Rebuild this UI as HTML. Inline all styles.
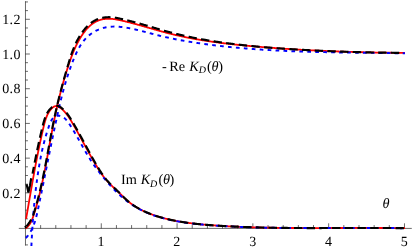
<!DOCTYPE html>
<html><head><meta charset="utf-8"><title>plot</title>
<style>
html,body{margin:0;padding:0;background:#fff;}
body{width:415px;height:250px;overflow:hidden;}
svg{display:block;}
text{font-family:"Liberation Serif",serif;font-size:14.0px;fill:#000;text-rendering:geometricPrecision;}
.it{font-style:italic;}
</style></head><body>
<svg width="415" height="250" viewBox="0 0 415 250">
<defs><filter id="gf" x="0" y="0" width="415" height="250" filterUnits="userSpaceOnUse"><feOffset dx="0" dy="0"/></filter></defs>
<rect width="415" height="250" fill="#fff"/>
<g stroke="#000" stroke-width="0.62" fill="none" stroke-opacity="0.95">
<line x1="18.8" y1="228.40" x2="411.8" y2="228.40"/>
<line x1="25.47" y1="1.2" x2="25.47" y2="245.6"/>
<line x1="40.63" y1="228.40" x2="40.63" y2="225.10"/>
<line x1="55.79" y1="228.40" x2="55.79" y2="225.10"/>
<line x1="70.95" y1="228.40" x2="70.95" y2="225.10"/>
<line x1="86.11" y1="228.40" x2="86.11" y2="225.10"/>
<line x1="101.27" y1="228.40" x2="101.27" y2="223.30"/>
<line x1="116.43" y1="228.40" x2="116.43" y2="225.10"/>
<line x1="131.59" y1="228.40" x2="131.59" y2="225.10"/>
<line x1="146.75" y1="228.40" x2="146.75" y2="225.10"/>
<line x1="161.91" y1="228.40" x2="161.91" y2="225.10"/>
<line x1="177.07" y1="228.40" x2="177.07" y2="223.30"/>
<line x1="192.23" y1="228.40" x2="192.23" y2="225.10"/>
<line x1="207.39" y1="228.40" x2="207.39" y2="225.10"/>
<line x1="222.55" y1="228.40" x2="222.55" y2="225.10"/>
<line x1="237.71" y1="228.40" x2="237.71" y2="225.10"/>
<line x1="252.87" y1="228.40" x2="252.87" y2="223.30"/>
<line x1="268.03" y1="228.40" x2="268.03" y2="225.10"/>
<line x1="283.19" y1="228.40" x2="283.19" y2="225.10"/>
<line x1="298.35" y1="228.40" x2="298.35" y2="225.10"/>
<line x1="313.51" y1="228.40" x2="313.51" y2="225.10"/>
<line x1="328.67" y1="228.40" x2="328.67" y2="223.30"/>
<line x1="343.83" y1="228.40" x2="343.83" y2="225.10"/>
<line x1="358.99" y1="228.40" x2="358.99" y2="225.10"/>
<line x1="374.15" y1="228.40" x2="374.15" y2="225.10"/>
<line x1="389.31" y1="228.40" x2="389.31" y2="225.10"/>
<line x1="404.47" y1="228.40" x2="404.47" y2="223.30"/>
<line x1="25.47" y1="244.91" x2="27.97" y2="244.91"/>
<line x1="25.47" y1="236.23" x2="27.97" y2="236.23"/>
<line x1="25.47" y1="218.87" x2="27.97" y2="218.87"/>
<line x1="25.47" y1="210.20" x2="27.97" y2="210.20"/>
<line x1="25.47" y1="201.52" x2="27.97" y2="201.52"/>
<line x1="25.47" y1="192.84" x2="29.87" y2="192.84"/>
<line x1="25.47" y1="184.16" x2="27.97" y2="184.16"/>
<line x1="25.47" y1="175.49" x2="27.97" y2="175.49"/>
<line x1="25.47" y1="166.81" x2="27.97" y2="166.81"/>
<line x1="25.47" y1="158.13" x2="29.87" y2="158.13"/>
<line x1="25.47" y1="149.45" x2="27.97" y2="149.45"/>
<line x1="25.47" y1="140.78" x2="27.97" y2="140.78"/>
<line x1="25.47" y1="132.10" x2="27.97" y2="132.10"/>
<line x1="25.47" y1="123.42" x2="29.87" y2="123.42"/>
<line x1="25.47" y1="114.74" x2="27.97" y2="114.74"/>
<line x1="25.47" y1="106.06" x2="27.97" y2="106.06"/>
<line x1="25.47" y1="97.39" x2="27.97" y2="97.39"/>
<line x1="25.47" y1="88.71" x2="29.87" y2="88.71"/>
<line x1="25.47" y1="80.03" x2="27.97" y2="80.03"/>
<line x1="25.47" y1="71.35" x2="27.97" y2="71.35"/>
<line x1="25.47" y1="62.68" x2="27.97" y2="62.68"/>
<line x1="25.47" y1="54.00" x2="29.87" y2="54.00"/>
<line x1="25.47" y1="45.32" x2="27.97" y2="45.32"/>
<line x1="25.47" y1="36.64" x2="27.97" y2="36.64"/>
<line x1="25.47" y1="27.97" x2="27.97" y2="27.97"/>
<line x1="25.47" y1="19.29" x2="29.87" y2="19.29"/>
<line x1="25.47" y1="10.61" x2="27.97" y2="10.61"/>
<line x1="25.47" y1="1.94" x2="27.97" y2="1.94"/>
</g>
<g filter="url(#gf)">
<text x="20.9" y="197.54" text-anchor="end" style="letter-spacing:0.4px">0.2</text>
<text x="20.9" y="162.83" text-anchor="end" style="letter-spacing:0.4px">0.4</text>
<text x="20.9" y="128.12" text-anchor="end" style="letter-spacing:0.4px">0.6</text>
<text x="20.9" y="93.41" text-anchor="end" style="letter-spacing:0.4px">0.8</text>
<text x="20.9" y="58.70" text-anchor="end" style="letter-spacing:0.4px">1.0</text>
<text x="20.9" y="23.99" text-anchor="end" style="letter-spacing:0.4px">1.2</text>
<text x="101.07" y="245.6" text-anchor="middle">1</text>
<text x="176.87" y="245.6" text-anchor="middle">2</text>
<text x="252.67" y="245.6" text-anchor="middle">3</text>
<text x="328.47" y="245.6" text-anchor="middle">4</text>
<text x="404.27" y="245.6" text-anchor="middle">5</text>
<text x="161.9" y="70.90" style="font-size:14.3px">-</text>
<text x="169.2" y="70.90" style="font-size:14.3px">Re</text>
<text x="189.3" y="70.90" class="it" style="font-size:14.3px">K</text>
<text x="198.8" y="73.00" class="it" style="font-size:10.0px">D</text>
<text x="207.0" y="70.90" style="font-size:14.3px">(</text>
<text x="211.5" y="70.90" class="it" style="font-size:14.3px">θ</text>
<text x="218.3" y="70.90" style="font-size:14.3px">)</text>
<text x="121.0" y="184.40" style="font-size:14.3px">Im</text>
<text x="140.8" y="184.40" class="it" style="font-size:14.3px">K</text>
<text x="150.1" y="186.50" class="it" style="font-size:10.0px">D</text>
<text x="158.4" y="184.40" style="font-size:14.3px">(</text>
<text x="162.9" y="184.40" class="it" style="font-size:14.3px">θ</text>
<text x="169.4" y="184.40" style="font-size:14.3px">)</text>
<text x="382.4" y="207.60" class="it" style="font-size:14.3px">θ</text>
</g>
<g fill="none" stroke-linejoin="round">
<path d="M25.61,228.49 L26.15,228.08 L26.67,227.65 L27.16,227.20 L27.63,226.74 L28.08,226.26 L28.51,225.77 L28.92,225.26 L29.30,224.74 L29.67,224.21 L30.03,223.66 L30.36,223.10 L30.68,222.53 L30.99,221.96 L31.28,221.37 L31.56,220.77 L31.83,220.17 L32.09,219.55 L32.34,218.94 L32.58,218.31 L32.81,217.68 L33.04,217.05 L33.26,216.41 L33.47,215.77 L33.68,215.13 L33.89,214.49 L34.09,213.84 L34.29,213.20 L34.49,212.55 L34.69,211.91 L34.89,211.26 L35.09,210.62 L35.28,209.97 L35.47,209.33 L35.67,208.68 L35.86,208.03 L36.04,207.39 L36.23,206.74 L36.42,206.09 L36.60,205.45 L36.78,204.80 L36.96,204.15 L37.14,203.50 L37.32,202.85 L37.50,202.20 L37.67,201.56 L37.85,200.91 L38.02,200.26 L38.19,199.61 L38.36,198.96 L38.53,198.31 L38.70,197.66 L38.86,197.01 L39.03,196.36 L39.19,195.71 L39.35,195.06 L39.52,194.41 L39.68,193.76 L39.83,193.10 L39.99,192.45 L40.15,191.80 L40.30,191.15 L40.46,190.50 L40.61,189.85 L40.76,189.19 L40.92,188.54 L41.07,187.89 L41.22,187.24 L41.36,186.58 L41.51,185.93 L41.66,185.28 L41.80,184.62 L41.95,183.97 L42.09,183.32 L42.23,182.66 L42.38,182.01 L42.52,181.35 L42.66,180.70 L42.80,180.05 L42.94,179.39 L43.07,178.74 L43.21,178.08 L43.35,177.43 L43.48,176.77 L43.62,176.12 L43.75,175.46 L43.88,174.81 L44.02,174.15 L44.15,173.49 L44.28,172.84 L44.41,172.18 L44.54,171.53 L44.67,170.87 L44.80,170.21 L44.93,169.56 L45.06,168.90 L45.18,168.24 L45.31,167.59 L45.44,166.93 L45.56,166.27 L45.69,165.62 L45.81,164.96 L45.94,164.30 L46.06,163.65 L46.19,162.99 L46.31,162.33 L46.43,161.67 L46.55,161.02 L46.68,160.36 L46.80,159.70 L46.92,159.04 L47.04,158.39 L47.16,157.73 L47.28,157.07 L47.40,156.41 L47.53,155.75 L47.65,155.10 L47.77,154.44 L47.89,153.78 L48.01,153.12 L48.12,152.46 L48.24,151.81 L48.36,151.15 L48.48,150.49 L48.60,149.83 L48.72,149.17 L48.84,148.51 L48.96,147.86 L49.08,147.20 L49.20,146.54 L49.32,145.88 L49.44,145.22 L49.56,144.56 L49.68,143.90 L49.79,143.25 L49.91,142.59 L50.03,141.93 L50.15,141.27 L50.27,140.61 L50.39,139.95 L50.51,139.29 L50.64,138.64 L50.76,137.98 L50.88,137.32 L51.00,136.66 L51.12,136.00 L51.24,135.34 L51.37,134.68 L51.49,134.02 L51.61,133.37 L51.73,132.71 L51.86,132.05 L51.98,131.39 L52.11,130.73 L52.23,130.07 L52.36,129.41 L52.48,128.76 L52.61,128.10 L52.74,127.44 L52.86,126.78 L52.99,126.12 L53.12,125.47 L53.25,124.81 L53.38,124.15 L53.51,123.49 L53.64,122.83 L53.77,122.17 L53.90,121.52 L54.03,120.86 L54.17,120.20 L54.30,119.54 L54.44,118.89 L54.57,118.23 L54.71,117.57 L54.85,116.91 L54.98,116.26 L55.12,115.60 L55.26,114.94 L55.40,114.28 L55.54,113.63 L55.68,112.97 L55.83,112.31 L55.97,111.66 L56.11,111.00 L56.26,110.34 L56.40,109.69 L56.55,109.03 L56.70,108.38 L56.84,107.72 L56.99,107.07 L57.14,106.41 L57.29,105.75 L57.44,105.10 L57.60,104.44 L57.75,103.79 L57.90,103.14 L58.06,102.48 L58.21,101.83 L58.37,101.17 L58.53,100.52 L58.68,99.87 L58.84,99.21 L59.00,98.56 L59.16,97.91 L59.32,97.26 L59.49,96.60 L59.65,95.95 L59.81,95.30 L59.98,94.65 L60.14,94.00 L60.31,93.35 L60.48,92.70 L60.65,92.05 L60.81,91.40 L60.98,90.75 L61.16,90.10 L61.33,89.45 L61.50,88.80 L61.67,88.15 L61.85,87.50 L62.02,86.85 L62.20,86.21 L62.38,85.56 L62.56,84.91 L62.74,84.27 L62.92,83.62 L63.10,82.98 L63.28,82.33 L63.46,81.69 L63.65,81.04 L63.83,80.40 L64.02,79.75 L64.21,79.11 L64.39,78.47 L64.58,77.83 L64.77,77.18 L64.96,76.54 L65.16,75.90 L65.35,75.26 L65.54,74.62 L65.74,73.98 L65.93,73.34 L66.13,72.70 L66.33,72.07 L66.53,71.43 L66.73,70.79 L66.93,70.15 L67.13,69.52 L67.33,68.88 L67.54,68.25 L67.74,67.61 L67.95,66.98 L68.16,66.35 L68.37,65.71 L68.58,65.08 L68.79,64.45 L69.00,63.82 L69.21,63.19 L69.42,62.56 L69.64,61.93 L69.86,61.30 L70.07,60.67 L70.29,60.04 L70.52,59.41 L70.74,58.79 L70.96,58.16 L71.19,57.54 L71.42,56.91 L71.65,56.29 L71.89,55.67 L72.12,55.05 L72.36,54.43 L72.61,53.81 L72.85,53.19 L73.10,52.57 L73.35,51.95 L73.60,51.34 L73.86,50.72 L74.12,50.11 L74.38,49.50 L74.65,48.89 L74.92,48.28 L75.19,47.67 L75.47,47.06 L75.75,46.45 L76.04,45.85 L76.33,45.24 L76.63,44.64 L76.92,44.04 L77.23,43.44 L77.54,42.84 L77.85,42.24 L78.17,41.65 L78.49,41.05 L78.82,40.46 L79.15,39.87 L79.48,39.28 L79.83,38.69 L80.18,38.10 L80.53,37.52 L80.89,36.93 L81.25,36.35 L81.62,35.78 L82.00,35.21 L82.38,34.64 L82.77,34.07 L83.16,33.51 L83.56,32.96 L83.97,32.41 L84.38,31.87 L84.80,31.33 L85.22,30.80 L85.65,30.28 L86.09,29.76 L86.53,29.25 L86.98,28.75 L87.44,28.25 L87.90,27.77 L88.37,27.29 L88.85,26.83 L89.33,26.37 L89.82,25.92 L90.32,25.49 L90.82,25.06 L91.34,24.65 L91.86,24.24 L92.38,23.85 L92.92,23.47 L93.46,23.11 L94.01,22.75 L94.56,22.41 L95.13,22.09 L95.70,21.77 L96.28,21.47 L96.87,21.19 L97.46,20.92 L98.07,20.67 L98.68,20.43 L99.30,20.21 L99.92,20.00 L100.56,19.81 L101.20,19.64 L101.85,19.48 L102.51,19.34 L103.17,19.21 L103.83,19.10 L104.50,19.01 L105.18,18.93 L105.85,18.86 L106.53,18.81 L107.21,18.77 L107.89,18.75 L108.57,18.74 L109.24,18.74 L109.92,18.76 L110.60,18.79 L111.27,18.83 L111.94,18.89 L112.61,18.95 L113.28,19.03 L113.95,19.12 L114.61,19.21 L115.27,19.31 L115.94,19.42 L116.60,19.54 L117.26,19.66 L117.91,19.79 L118.57,19.92 L119.23,20.06 L119.89,20.20 L120.54,20.34 L121.20,20.48 L121.85,20.63 L122.51,20.77 L123.16,20.92 L123.81,21.07 L124.47,21.23 L125.12,21.38 L125.77,21.54 L126.42,21.69 L127.07,21.85 L127.72,22.01 L128.37,22.18 L129.02,22.34 L129.67,22.50 L130.32,22.67 L130.97,22.84 L131.62,23.01 L132.27,23.18 L132.92,23.35 L133.57,23.52 L134.21,23.70 L134.86,23.87 L135.51,24.05 L136.15,24.22 L136.80,24.40 L137.45,24.58 L138.09,24.76 L138.74,24.94 L139.38,25.12 L140.03,25.30 L140.67,25.48 L141.32,25.67 L141.96,25.85 L142.61,26.03 L143.25,26.22 L143.90,26.40 L144.54,26.59 L145.19,26.77 L145.83,26.96 L146.47,27.14 L147.12,27.33 L147.76,27.52 L148.41,27.70 L149.05,27.89 L149.69,28.07 L150.34,28.26 L150.98,28.45 L151.63,28.63 L152.27,28.82 L152.91,29.00 L153.56,29.19 L154.20,29.37 L154.85,29.56 L155.49,29.74 L156.14,29.93 L156.78,30.11 L157.42,30.29 L158.07,30.47 L158.71,30.66 L159.36,30.84 L160.00,31.02 L160.65,31.19 L161.30,31.37 L161.94,31.55 L162.59,31.73 L163.23,31.90 L163.88,32.08 L164.53,32.25 L165.17,32.42 L165.82,32.59 L166.47,32.76 L167.12,32.93 L167.76,33.10 L168.41,33.26 L169.06,33.43 L169.71,33.59 L170.36,33.75 L171.01,33.91 L171.66,34.07 L172.31,34.23 L172.96,34.39 L173.61,34.54 L174.26,34.70 L174.91,34.85 L175.56,35.00 L176.22,35.15 L176.87,35.30 L177.52,35.45 L178.17,35.60 L178.83,35.74 L179.48,35.89 L180.13,36.03 L180.79,36.17 L181.44,36.31 L182.09,36.45 L182.75,36.59 L183.40,36.73 L184.06,36.87 L184.71,37.00 L185.37,37.13 L186.03,37.27 L186.68,37.40 L187.34,37.53 L187.99,37.66 L188.65,37.79 L189.31,37.92 L189.97,38.04 L190.62,38.17 L191.28,38.29 L191.94,38.41 L192.60,38.54 L193.25,38.66 L193.91,38.78 L194.57,38.90 L195.23,39.01 L195.89,39.13 L196.55,39.25 L197.21,39.36 L197.87,39.48 L198.53,39.59 L199.19,39.70 L199.85,39.81 L200.51,39.92 L201.17,40.03 L201.83,40.14 L202.49,40.25 L203.15,40.35 L203.81,40.46 L204.48,40.56 L205.14,40.67 L205.80,40.77 L206.46,40.87 L207.12,40.97 L207.79,41.07 L208.45,41.17 L209.11,41.27 L209.78,41.37 L210.44,41.47 L211.10,41.56 L211.77,41.66 L212.43,41.75 L213.09,41.85 L213.76,41.94 L214.42,42.03 L215.08,42.12 L215.75,42.21 L216.41,42.30 L217.08,42.39 L217.74,42.48 L218.41,42.57 L219.07,42.65 L219.74,42.74 L220.40,42.82 L221.07,42.91 L221.73,42.99 L222.40,43.08 L223.06,43.16 L223.73,43.24 L224.40,43.32 L225.06,43.40 L225.73,43.48 L226.39,43.56 L227.06,43.64 L227.73,43.72 L228.39,43.79 L229.06,43.87 L229.73,43.95 L230.39,44.02 L231.06,44.10 L231.73,44.17 L232.39,44.24 L233.06,44.32 L233.73,44.39 L234.40,44.46 L235.06,44.53 L235.73,44.60 L236.40,44.67 L237.06,44.74 L237.73,44.81 L238.40,44.88 L239.07,44.95 L239.74,45.02 L240.40,45.09 L241.07,45.15 L241.74,45.22 L242.41,45.28 L243.07,45.35 L243.74,45.42 L244.41,45.48 L245.08,45.54 L245.75,45.61 L246.41,45.67 L247.08,45.73 L247.75,45.80 L248.42,45.86 L249.09,45.92 L249.76,45.98 L250.42,46.04 L251.09,46.10 L251.76,46.16 L252.43,46.22 L253.10,46.28 L253.76,46.34 L254.43,46.40 L255.10,46.46 L255.77,46.52 L256.44,46.57 L257.11,46.63 L257.77,46.69 L258.44,46.75 L259.11,46.80 L259.78,46.86 L260.45,46.91 L261.12,46.97 L261.78,47.03 L262.45,47.08 L263.12,47.14 L263.79,47.19 L264.46,47.24 L265.13,47.30 L265.79,47.35 L266.46,47.40 L267.13,47.46 L267.80,47.51 L268.47,47.56 L269.13,47.62 L269.80,47.67 L270.47,47.72 L271.14,47.77 L271.81,47.82 L272.48,47.87 L273.14,47.92 L273.81,47.97 L274.48,48.02 L275.15,48.07 L275.82,48.12 L276.49,48.17 L277.15,48.22 L277.82,48.27 L278.49,48.31 L279.16,48.36 L279.83,48.41 L280.50,48.46 L281.16,48.50 L281.83,48.55 L282.50,48.59 L283.17,48.64 L283.84,48.69 L284.50,48.73 L285.17,48.78 L285.84,48.82 L286.51,48.87 L287.18,48.91 L287.85,48.95 L288.51,49.00 L289.18,49.04 L289.85,49.08 L290.52,49.13 L291.19,49.17 L291.86,49.21 L292.52,49.25 L293.19,49.30 L293.86,49.34 L294.53,49.38 L295.20,49.42 L295.87,49.46 L296.54,49.50 L297.20,49.54 L297.87,49.58 L298.54,49.62 L299.21,49.66 L299.88,49.70 L300.55,49.74 L301.21,49.78 L301.88,49.81 L302.55,49.85 L303.22,49.89 L303.89,49.93 L304.56,49.96 L305.23,50.00 L305.89,50.04 L306.56,50.07 L307.23,50.11 L307.90,50.15 L308.57,50.18 L309.24,50.22 L309.90,50.25 L310.57,50.29 L311.24,50.32 L311.91,50.36 L312.58,50.39 L313.25,50.42 L313.92,50.46 L314.59,50.49 L315.25,50.52 L315.92,50.56 L316.59,50.59 L317.26,50.62 L317.93,50.65 L318.60,50.68 L319.27,50.72 L319.93,50.75 L320.60,50.78 L321.27,50.81 L321.94,50.84 L322.61,50.87 L323.28,50.90 L323.95,50.93 L324.62,50.96 L325.28,50.99 L325.95,51.02 L326.62,51.05 L327.29,51.07 L327.96,51.10 L328.63,51.13 L329.30,51.16 L329.97,51.19 L330.64,51.21 L331.30,51.24 L331.97,51.27 L332.64,51.29 L333.31,51.32 L333.98,51.35 L334.65,51.37 L335.32,51.40 L335.99,51.42 L336.66,51.45 L337.33,51.47 L338.00,51.50 L338.66,51.52 L339.33,51.55 L340.00,51.57 L340.67,51.60 L341.34,51.62 L342.01,51.64 L342.68,51.66 L343.35,51.69 L344.02,51.71 L344.69,51.73 L345.36,51.75 L346.03,51.78 L346.69,51.80 L347.36,51.82 L348.03,51.84 L348.70,51.86 L349.37,51.88 L350.04,51.90 L350.71,51.92 L351.38,51.94 L352.05,51.96 L352.72,51.98 L353.39,52.00 L354.06,52.02 L354.73,52.04 L355.40,52.06 L356.07,52.08 L356.74,52.10 L357.41,52.12 L358.08,52.13 L358.75,52.15 L359.42,52.17 L360.09,52.19 L360.76,52.20 L361.42,52.22 L362.09,52.24 L362.76,52.25 L363.43,52.27 L364.10,52.29 L364.77,52.30 L365.44,52.32 L366.11,52.33 L366.78,52.35 L367.45,52.36 L368.12,52.38 L368.79,52.39 L369.46,52.41 L370.13,52.42 L370.80,52.44 L371.47,52.45 L372.14,52.46 L372.81,52.48 L373.48,52.49 L374.15,52.50 L374.82,52.52 L375.49,52.53 L376.16,52.54 L376.84,52.55 L377.51,52.56 L378.18,52.58 L378.85,52.59 L379.52,52.60 L380.19,52.61 L380.86,52.62 L381.53,52.63 L382.20,52.64 L382.87,52.65 L383.54,52.66 L384.21,52.67 L384.88,52.68 L385.55,52.69 L386.22,52.70 L386.89,52.71 L387.56,52.72 L388.23,52.73 L388.90,52.74 L389.58,52.75 L390.25,52.76 L390.92,52.76 L391.59,52.77 L392.26,52.78 L392.93,52.79 L393.60,52.80 L394.27,52.80 L394.94,52.81 L395.61,52.82 L396.28,52.82 L396.96,52.83 L397.63,52.84 L398.30,52.84 L398.97,52.85 L399.64,52.85 L400.31,52.86 L400.98,52.87 L401.65,52.87 L402.33,52.88 L403.00,52.88 L403.67,52.89 L404.34,52.89 L405.01,52.90" stroke="#f00" stroke-width="1.8"/>
<path d="M26.06,218.95 L26.17,218.30 L26.29,217.64 L26.40,216.99 L26.51,216.34 L26.63,215.68 L26.74,215.03 L26.85,214.38 L26.96,213.73 L27.08,213.07 L27.19,212.42 L27.30,211.77 L27.41,211.12 L27.53,210.47 L27.64,209.82 L27.75,209.17 L27.86,208.53 L27.97,207.88 L28.08,207.23 L28.20,206.58 L28.31,205.93 L28.42,205.29 L28.53,204.64 L28.64,204.00 L28.75,203.35 L28.86,202.70 L28.98,202.06 L29.09,201.41 L29.20,200.77 L29.31,200.12 L29.42,199.48 L29.53,198.84 L29.64,198.19 L29.75,197.55 L29.86,196.91 L29.97,196.27 L30.09,195.62 L30.20,194.98 L30.31,194.34 L30.42,193.70 L30.53,193.06 L30.64,192.41 L30.75,191.77 L30.87,191.13 L30.98,190.49 L31.09,189.85 L31.20,189.21 L31.31,188.57 L31.43,187.93 L31.54,187.29 L31.65,186.65 L31.76,186.01 L31.88,185.37 L31.99,184.73 L32.10,184.10 L32.21,183.46 L32.33,182.82 L32.44,182.18 L32.55,181.54 L32.67,180.90 L32.78,180.26 L32.90,179.63 L33.01,178.99 L33.13,178.35 L33.24,177.71 L33.36,177.07 L33.47,176.44 L33.59,175.80 L33.70,175.16 L33.82,174.52 L33.93,173.89 L34.05,173.25 L34.17,172.61 L34.28,171.97 L34.40,171.34 L34.52,170.70 L34.64,170.06 L34.76,169.42 L34.87,168.79 L34.99,168.15 L35.11,167.51 L35.23,166.87 L35.35,166.24 L35.47,165.60 L35.59,164.96 L35.71,164.32 L35.83,163.68 L35.96,163.05 L36.08,162.41 L36.20,161.77 L36.32,161.13 L36.45,160.49 L36.57,159.86 L36.69,159.22 L36.82,158.58 L36.94,157.94 L37.07,157.30 L37.19,156.66 L37.32,156.02 L37.45,155.38 L37.57,154.74 L37.70,154.10 L37.83,153.46 L37.96,152.82 L38.09,152.18 L38.22,151.54 L38.35,150.90 L38.48,150.26 L38.61,149.62 L38.74,148.98 L38.87,148.34 L39.00,147.70 L39.14,147.06 L39.27,146.41 L39.41,145.77 L39.54,145.13 L39.68,144.49 L39.81,143.84 L39.95,143.20 L40.08,142.56 L40.22,141.91 L40.36,141.27 L40.50,140.62 L40.64,139.98 L40.78,139.33 L40.92,138.69 L41.06,138.04 L41.20,137.40 L41.34,136.75 L41.49,136.10 L41.63,135.46 L41.78,134.81 L41.92,134.16 L42.07,133.51 L42.21,132.87 L42.36,132.22 L42.51,131.57 L42.66,130.92 L42.81,130.27 L42.96,129.62 L43.11,128.97 L43.26,128.32 L43.41,127.66 L43.56,127.01 L43.72,126.36 L43.87,125.71 L44.03,125.06 L44.20,124.41 L44.36,123.76 L44.53,123.11 L44.71,122.47 L44.88,121.82 L45.07,121.18 L45.26,120.55 L45.46,119.91 L45.67,119.28 L45.88,118.65 L46.10,118.03 L46.33,117.41 L46.57,116.80 L46.82,116.19 L47.08,115.59 L47.36,114.99 L47.64,114.40 L47.93,113.82 L48.24,113.24 L48.56,112.67 L48.90,112.11 L49.25,111.55 L49.61,111.01 L49.99,110.47 L50.39,109.94 L50.80,109.42 L51.22,108.92 L51.66,108.45 L52.12,108.00 L52.58,107.59 L53.06,107.22 L53.55,106.89 L54.05,106.62 L54.56,106.40 L55.08,106.24 L55.61,106.14 L56.14,106.12 L56.68,106.17 L57.23,106.29 L57.78,106.46 L58.33,106.68 L58.88,106.95 L59.43,107.26 L59.97,107.61 L60.51,107.98 L61.04,108.39 L61.57,108.81 L62.08,109.25 L62.58,109.70 L63.07,110.16 L63.55,110.62 L64.01,111.10 L64.47,111.59 L64.92,112.08 L65.36,112.58 L65.79,113.09 L66.21,113.61 L66.62,114.13 L67.03,114.66 L67.43,115.20 L67.82,115.74 L68.20,116.28 L68.58,116.83 L68.95,117.39 L69.32,117.94 L69.68,118.51 L70.04,119.07 L70.39,119.64 L70.74,120.21 L71.09,120.78 L71.43,121.35 L71.77,121.93 L72.11,122.50 L72.44,123.08 L72.78,123.65 L73.11,124.22 L73.44,124.80 L73.77,125.37 L74.10,125.95 L74.43,126.52 L74.76,127.10 L75.08,127.67 L75.41,128.24 L75.73,128.82 L76.06,129.39 L76.38,129.96 L76.70,130.54 L77.02,131.11 L77.34,131.68 L77.66,132.25 L77.97,132.83 L78.29,133.40 L78.61,133.97 L78.92,134.54 L79.24,135.11 L79.55,135.69 L79.87,136.26 L80.18,136.83 L80.49,137.40 L80.80,137.97 L81.12,138.54 L81.43,139.11 L81.74,139.68 L82.05,140.25 L82.36,140.82 L82.67,141.39 L82.98,141.96 L83.29,142.53 L83.60,143.10 L83.91,143.67 L84.22,144.24 L84.53,144.81 L84.84,145.38 L85.15,145.95 L85.46,146.51 L85.77,147.08 L86.08,147.65 L86.40,148.22 L86.71,148.79 L87.02,149.35 L87.33,149.92 L87.64,150.49 L87.96,151.06 L88.27,151.62 L88.58,152.19 L88.90,152.76 L89.21,153.32 L89.53,153.89 L89.85,154.46 L90.17,155.02 L90.48,155.59 L90.80,156.15 L91.12,156.72 L91.44,157.28 L91.76,157.85 L92.09,158.41 L92.41,158.98 L92.74,159.54 L93.06,160.11 L93.39,160.67 L93.72,161.24 L94.05,161.80 L94.38,162.37 L94.71,162.93 L95.04,163.49 L95.37,164.06 L95.71,164.62 L96.05,165.18 L96.39,165.75 L96.73,166.31 L97.07,166.87 L97.41,167.43 L97.76,167.99 L98.11,168.55 L98.46,169.11 L98.81,169.67 L99.16,170.23 L99.52,170.78 L99.88,171.33 L100.24,171.88 L100.61,172.43 L100.98,172.97 L101.35,173.52 L101.72,174.06 L102.10,174.60 L102.48,175.13 L102.87,175.66 L103.26,176.19 L103.65,176.71 L104.04,177.24 L104.44,177.75 L104.85,178.27 L105.26,178.77 L105.67,179.28 L106.09,179.78 L106.51,180.27 L106.94,180.77 L107.37,181.25 L107.80,181.73 L108.25,182.21 L108.69,182.68 L109.14,183.15 L109.59,183.61 L110.05,184.07 L110.51,184.53 L110.97,184.98 L111.44,185.43 L111.91,185.88 L112.38,186.33 L112.85,186.78 L113.32,187.22 L113.79,187.67 L114.27,188.12 L114.74,188.56 L115.22,189.01 L115.70,189.46 L116.17,189.91 L116.65,190.36 L117.12,190.81 L117.59,191.27 L118.06,191.73 L118.53,192.19 L119.00,192.65 L119.47,193.11 L119.94,193.58 L120.40,194.04 L120.87,194.51 L121.34,194.98 L121.81,195.44 L122.28,195.91 L122.75,196.37 L123.22,196.83 L123.69,197.29 L124.17,197.75 L124.65,198.20 L125.13,198.65 L125.61,199.10 L126.10,199.54 L126.58,199.98 L127.08,200.41 L127.57,200.84 L128.07,201.26 L128.58,201.68 L129.08,202.09 L129.59,202.49 L130.11,202.89 L130.63,203.29 L131.15,203.67 L131.67,204.06 L132.20,204.44 L132.74,204.81 L133.27,205.18 L133.81,205.54 L134.35,205.90 L134.90,206.25 L135.44,206.60 L136.00,206.94 L136.55,207.27 L137.11,207.61 L137.67,207.93 L138.23,208.26 L138.80,208.58 L139.36,208.89 L139.94,209.20 L140.51,209.50 L141.09,209.80 L141.66,210.10 L142.25,210.39 L142.83,210.68 L143.42,210.96 L144.00,211.24 L144.60,211.51 L145.19,211.78 L145.78,212.04 L146.38,212.31 L146.98,212.56 L147.58,212.82 L148.19,213.07 L148.79,213.31 L149.40,213.55 L150.01,213.79 L150.62,214.03 L151.23,214.26 L151.85,214.48 L152.46,214.71 L153.08,214.93 L153.70,215.14 L154.32,215.36 L154.94,215.57 L155.56,215.77 L156.19,215.98 L156.81,216.18 L157.44,216.37 L158.07,216.57 L158.70,216.76 L159.33,216.94 L159.96,217.13 L160.59,217.31 L161.22,217.49 L161.86,217.66 L162.49,217.84 L163.13,218.01 L163.76,218.17 L164.40,218.34 L165.04,218.50 L165.67,218.66 L166.31,218.82 L166.95,218.97 L167.59,219.12 L168.23,219.27 L168.87,219.42 L169.51,219.57 L170.15,219.71 L170.79,219.85 L171.43,219.99 L172.07,220.13 L172.71,220.26 L173.35,220.39 L173.99,220.52 L174.64,220.65 L175.28,220.77 L175.92,220.90 L176.56,221.02 L177.21,221.14 L177.85,221.26 L178.49,221.37 L179.14,221.49 L179.78,221.60 L180.43,221.71 L181.07,221.81 L181.71,221.92 L182.36,222.02 L183.01,222.13 L183.65,222.23 L184.30,222.33 L184.94,222.42 L185.59,222.52 L186.23,222.61 L186.88,222.71 L187.53,222.80 L188.18,222.88 L188.82,222.97 L189.47,223.06 L190.12,223.14 L190.77,223.22 L191.41,223.31 L192.06,223.39 L192.71,223.46 L193.36,223.54 L194.01,223.62 L194.66,223.69 L195.30,223.76 L195.95,223.84 L196.60,223.91 L197.25,223.98 L197.90,224.04 L198.55,224.11 L199.20,224.18 L199.85,224.24 L200.50,224.30 L201.15,224.37 L201.80,224.43 L202.45,224.49 L203.10,224.55 L203.75,224.60 L204.40,224.66 L205.05,224.72 L205.70,224.77 L206.36,224.82 L207.01,224.88 L207.66,224.93 L208.31,224.98 L208.96,225.03 L209.61,225.08 L210.26,225.13 L210.92,225.18 L211.57,225.23 L212.22,225.27 L212.87,225.32 L213.52,225.37 L214.17,225.41 L214.83,225.46 L215.48,225.50 L216.13,225.54 L216.78,225.59 L217.43,225.63 L218.09,225.67 L218.74,225.71 L219.39,225.75 L220.04,225.79 L220.69,225.83 L221.35,225.87 L222.00,225.91 L222.65,225.95 L223.30,225.99 L223.96,226.03 L224.61,226.06 L225.26,226.10 L225.91,226.14 L226.56,226.17 L227.22,226.21 L227.87,226.24 L228.52,226.28 L229.17,226.31 L229.83,226.35 L230.48,226.38 L231.13,226.41 L231.78,226.44 L232.44,226.48 L233.09,226.51 L233.74,226.54 L234.40,226.57 L235.05,226.60 L235.70,226.63 L236.35,226.66 L237.01,226.69 L237.66,226.72 L238.31,226.75 L238.96,226.77 L239.62,226.80 L240.27,226.83 L240.92,226.86 L241.58,226.88 L242.23,226.91 L242.88,226.93 L243.53,226.96 L244.19,226.99 L244.84,227.01 L245.49,227.03 L246.15,227.06 L246.80,227.08 L247.45,227.11 L248.11,227.13 L248.76,227.15 L249.41,227.17 L250.07,227.19 L250.72,227.22 L251.37,227.24 L252.02,227.26 L252.68,227.28 L253.33,227.30 L253.98,227.32 L254.64,227.34 L255.29,227.36 L255.94,227.38 L256.60,227.39 L257.25,227.41 L257.90,227.43 L258.56,227.45 L259.21,227.46 L259.86,227.48 L260.52,227.50 L261.17,227.51 L261.82,227.53 L262.48,227.55 L263.13,227.56 L263.78,227.58 L264.44,227.59 L265.09,227.61 L265.75,227.62 L266.40,227.63 L267.05,227.65 L267.71,227.66 L268.36,227.67 L269.01,227.69 L269.67,227.70 L270.32,227.71 L270.97,227.72 L271.63,227.74 L272.28,227.75 L272.94,227.76 L273.59,227.77 L274.24,227.78 L274.90,227.79 L275.55,227.80 L276.20,227.81 L276.86,227.82 L277.51,227.83 L278.16,227.84 L278.82,227.85 L279.47,227.86 L280.13,227.87 L280.78,227.87 L281.43,227.88 L282.09,227.89 L282.74,227.90 L283.40,227.90 L284.05,227.91 L284.70,227.92 L285.36,227.93 L286.01,227.93 L286.66,227.94 L287.32,227.94 L287.97,227.95 L288.63,227.96 L289.28,227.96 L289.93,227.97 L290.59,227.97 L291.24,227.98 L291.90,227.98 L292.55,227.99 L293.20,227.99 L293.86,228.00 L294.51,228.00 L295.17,228.00 L295.82,228.01 L296.47,228.01 L297.13,228.01 L297.78,228.02 L298.44,228.02 L299.09,228.02 L299.74,228.03 L300.40,228.03 L301.05,228.03 L301.71,228.03 L302.36,228.04 L303.01,228.04 L303.67,228.04 L304.32,228.04 L304.98,228.04 L305.63,228.04 L306.28,228.05 L306.94,228.05 L307.59,228.05 L308.25,228.05 L308.90,228.05 L309.56,228.05 L310.21,228.05 L310.86,228.05 L311.52,228.05 L312.17,228.05 L312.83,228.05 L313.48,228.05 L314.13,228.05 L314.79,228.05 L315.44,228.05 L316.10,228.05 L316.75,228.05 L317.40,228.05 L318.06,228.05 L318.71,228.05 L319.37,228.05 L320.02,228.05 L320.67,228.05 L321.33,228.05 L321.98,228.04 L322.64,228.04 L323.29,228.04 L323.95,228.04 L324.60,228.04 L325.25,228.04 L325.91,228.04 L326.56,228.04 L327.22,228.03 L327.87,228.03 L328.52,228.03 L329.18,228.03 L329.83,228.03 L330.49,228.03 L331.14,228.02 L331.79,228.02 L332.45,228.02 L333.10,228.02 L333.76,228.02 L334.41,228.01 L335.07,228.01 L335.72,228.01 L336.37,228.01 L337.03,228.01 L337.68,228.00 L338.34,228.00 L338.99,228.00 L339.64,228.00 L340.30,228.00 L340.95,227.99 L341.61,227.99 L342.26,227.99 L342.91,227.99 L343.57,227.99 L344.22,227.98 L344.88,227.98 L345.53,227.98 L346.18,227.98 L346.84,227.98 L347.49,227.98 L348.15,227.97 L348.80,227.97 L349.45,227.97 L350.11,227.97 L350.76,227.97 L351.42,227.97 L352.07,227.96 L352.72,227.96 L353.38,227.96 L354.03,227.96 L354.69,227.96 L355.34,227.96 L355.99,227.96 L356.65,227.95 L357.30,227.95 L357.95,227.95 L358.61,227.95 L359.26,227.95 L359.92,227.95 L360.57,227.95 L361.22,227.95 L361.88,227.95 L362.53,227.95 L363.19,227.95 L363.84,227.95 L364.49,227.95 L365.15,227.95 L365.80,227.95 L366.45,227.95 L367.11,227.95 L367.76,227.95 L368.41,227.95 L369.07,227.95 L369.72,227.95 L370.38,227.95 L371.03,227.95 L371.68,227.95 L372.34,227.95 L372.99,227.95 L373.64,227.95 L374.30,227.96 L374.95,227.96 L375.60,227.96 L376.26,227.96 L376.91,227.96 L377.57,227.97 L378.22,227.97 L378.87,227.97 L379.53,227.97 L380.18,227.98 L380.83,227.98 L381.49,227.98 L382.14,227.98 L382.79,227.99 L383.45,227.99 L384.10,228.00 L384.75,228.00 L385.41,228.00 L386.06,228.01 L386.71,228.01 L387.37,228.02 L388.02,228.02 L388.67,228.03 L389.33,228.03 L389.98,228.04 L390.63,228.04 L391.29,228.05 L391.94,228.06 L392.59,228.06 L393.24,228.07 L393.90,228.07 L394.55,228.08 L395.20,228.09 L395.86,228.10 L396.51,228.10 L397.16,228.11 L397.82,228.12 L398.47,228.13 L399.12,228.14 L399.77,228.14 L400.43,228.15 L401.08,228.16 L401.73,228.17 L402.39,228.18 L403.04,228.19 L403.69,228.20 L404.34,228.21 L405.00,228.22" stroke="#f00" stroke-width="1.8"/>
<path d="M25.83,238.08 L26.29,237.57 L26.73,237.07 L27.16,236.55 L27.58,236.03 L27.99,235.51 L28.38,234.98 L28.77,234.44 L29.14,233.90 L29.51,233.35 L29.86,232.80 L30.20,232.24 L30.54,231.68 L30.86,231.11 L31.17,230.54 L31.48,229.96 L31.78,229.38 L32.06,228.79 L32.34,228.20 L32.61,227.61 L32.88,227.01 L33.13,226.41 L33.38,225.80 L33.62,225.19 L33.86,224.58 L34.09,223.96 L34.31,223.34 L34.52,222.72 L34.73,222.10 L34.94,221.47 L35.13,220.84 L35.33,220.20 L35.51,219.56 L35.70,218.93 L35.88,218.28 L36.05,217.64 L36.22,217.00 L36.39,216.35 L36.55,215.70 L36.71,215.05 L36.87,214.40 L37.02,213.74 L37.17,213.09 L37.32,212.43 L37.46,211.78 L37.61,211.12 L37.75,210.46 L37.89,209.80 L38.03,209.14 L38.17,208.48 L38.31,207.82 L38.45,207.16 L38.59,206.50 L38.73,205.84 L38.87,205.18 L39.00,204.52 L39.14,203.86 L39.28,203.20 L39.41,202.54 L39.55,201.88 L39.69,201.22 L39.82,200.56 L39.96,199.90 L40.10,199.24 L40.23,198.58 L40.37,197.93 L40.50,197.27 L40.64,196.61 L40.78,195.95 L40.91,195.29 L41.05,194.63 L41.18,193.97 L41.32,193.31 L41.45,192.65 L41.58,191.99 L41.72,191.33 L41.85,190.67 L41.99,190.01 L42.12,189.35 L42.26,188.69 L42.39,188.03 L42.52,187.37 L42.66,186.71 L42.79,186.05 L42.92,185.40 L43.06,184.74 L43.19,184.08 L43.32,183.42 L43.46,182.76 L43.59,182.10 L43.72,181.44 L43.85,180.78 L43.99,180.12 L44.12,179.46 L44.25,178.81 L44.38,178.15 L44.52,177.49 L44.65,176.83 L44.78,176.17 L44.91,175.51 L45.05,174.85 L45.18,174.20 L45.31,173.54 L45.44,172.88 L45.57,172.22 L45.71,171.56 L45.84,170.90 L45.97,170.25 L46.10,169.59 L46.23,168.93 L46.37,168.27 L46.50,167.61 L46.63,166.96 L46.76,166.30 L46.89,165.64 L47.03,164.98 L47.16,164.32 L47.29,163.67 L47.42,163.01 L47.55,162.35 L47.69,161.69 L47.82,161.04 L47.95,160.38 L48.08,159.72 L48.21,159.07 L48.35,158.41 L48.48,157.75 L48.61,157.09 L48.74,156.44 L48.88,155.78 L49.01,155.12 L49.14,154.47 L49.27,153.81 L49.41,153.15 L49.54,152.50 L49.67,151.84 L49.81,151.18 L49.94,150.53 L50.07,149.87 L50.20,149.22 L50.34,148.56 L50.47,147.90 L50.60,147.25 L50.74,146.59 L50.87,145.94 L51.01,145.28 L51.14,144.62 L51.27,143.97 L51.41,143.31 L51.54,142.66 L51.68,142.00 L51.81,141.35 L51.95,140.69 L52.08,140.04 L52.22,139.38 L52.35,138.73 L52.49,138.07 L52.62,137.42 L52.76,136.76 L52.89,136.11 L53.03,135.45 L53.16,134.80 L53.30,134.15 L53.44,133.49 L53.57,132.84 L53.71,132.18 L53.85,131.53 L53.98,130.88 L54.12,130.22 L54.26,129.57 L54.40,128.91 L54.53,128.26 L54.67,127.61 L54.81,126.95 L54.95,126.30 L55.09,125.65 L55.23,125.00 L55.37,124.34 L55.50,123.69 L55.64,123.04 L55.78,122.38 L55.92,121.73 L56.06,121.08 L56.20,120.43 L56.35,119.77 L56.49,119.12 L56.63,118.47 L56.77,117.82 L56.91,117.17 L57.05,116.52 L57.20,115.86 L57.34,115.21 L57.48,114.56 L57.63,113.91 L57.77,113.26 L57.92,112.61 L58.06,111.96 L58.21,111.31 L58.36,110.66 L58.50,110.01 L58.65,109.35 L58.80,108.70 L58.95,108.05 L59.10,107.40 L59.25,106.75 L59.40,106.11 L59.55,105.46 L59.70,104.81 L59.86,104.16 L60.01,103.51 L60.17,102.86 L60.32,102.21 L60.48,101.56 L60.63,100.91 L60.79,100.27 L60.95,99.62 L61.11,98.97 L61.27,98.32 L61.44,97.67 L61.60,97.03 L61.76,96.38 L61.93,95.73 L62.09,95.09 L62.26,94.44 L62.43,93.79 L62.60,93.15 L62.77,92.50 L62.94,91.85 L63.11,91.21 L63.29,90.56 L63.46,89.92 L63.64,89.27 L63.81,88.63 L63.99,87.98 L64.17,87.34 L64.35,86.69 L64.54,86.05 L64.72,85.40 L64.91,84.76 L65.09,84.12 L65.28,83.47 L65.47,82.83 L65.66,82.19 L65.85,81.54 L66.05,80.90 L66.24,80.26 L66.44,79.62 L66.64,78.97 L66.84,78.33 L67.04,77.69 L67.25,77.05 L67.45,76.41 L67.66,75.77 L67.87,75.13 L68.08,74.49 L68.29,73.84 L68.50,73.20 L68.72,72.57 L68.93,71.93 L69.15,71.29 L69.37,70.65 L69.59,70.01 L69.82,69.37 L70.04,68.73 L70.27,68.09 L70.50,67.46 L70.73,66.82 L70.97,66.18 L71.20,65.54 L71.44,64.91 L71.68,64.27 L71.92,63.63 L72.17,63.00 L72.41,62.36 L72.66,61.73 L72.91,61.09 L73.16,60.46 L73.42,59.82 L73.68,59.19 L73.93,58.55 L74.20,57.92 L74.46,57.29 L74.73,56.66 L75.00,56.03 L75.27,55.40 L75.55,54.78 L75.83,54.16 L76.12,53.53 L76.41,52.92 L76.70,52.30 L77.00,51.69 L77.30,51.08 L77.60,50.47 L77.91,49.87 L78.23,49.27 L78.55,48.68 L78.88,48.09 L79.21,47.50 L79.54,46.92 L79.89,46.34 L80.23,45.77 L80.59,45.21 L80.95,44.64 L81.32,44.09 L81.69,43.54 L82.07,43.00 L82.46,42.46 L82.85,41.93 L83.25,41.41 L83.66,40.89 L84.08,40.38 L84.50,39.88 L84.93,39.38 L85.37,38.90 L85.82,38.42 L86.27,37.95 L86.74,37.48 L87.21,37.03 L87.69,36.58 L88.17,36.14 L88.66,35.71 L89.16,35.29 L89.67,34.88 L90.18,34.48 L90.70,34.08 L91.23,33.70 L91.76,33.32 L92.30,32.96 L92.84,32.60 L93.40,32.25 L93.95,31.91 L94.51,31.58 L95.08,31.27 L95.65,30.96 L96.23,30.66 L96.81,30.37 L97.40,30.09 L97.99,29.82 L98.59,29.56 L99.19,29.32 L99.80,29.08 L100.40,28.85 L101.02,28.64 L101.64,28.43 L102.26,28.24 L102.88,28.06 L103.51,27.89 L104.14,27.73 L104.77,27.58 L105.41,27.44 L106.05,27.32 L106.69,27.20 L107.34,27.10 L107.99,27.00 L108.64,26.92 L109.29,26.85 L109.95,26.78 L110.60,26.73 L111.26,26.68 L111.92,26.65 L112.59,26.62 L113.25,26.60 L113.92,26.59 L114.59,26.59 L115.26,26.60 L115.93,26.61 L116.60,26.64 L117.28,26.67 L117.95,26.70 L118.63,26.75 L119.30,26.80 L119.98,26.86 L120.66,26.92 L121.34,26.99 L122.02,27.07 L122.70,27.15 L123.38,27.24 L124.06,27.33 L124.74,27.43 L125.42,27.54 L126.10,27.65 L126.78,27.76 L127.46,27.88 L128.14,28.00 L128.82,28.12 L129.50,28.25 L130.18,28.39 L130.85,28.52 L131.53,28.66 L132.21,28.80 L132.88,28.95 L133.55,29.10 L134.22,29.25 L134.90,29.40 L135.56,29.55 L136.23,29.71 L136.90,29.87 L137.56,30.02 L138.22,30.18 L138.88,30.35 L139.54,30.51 L140.20,30.67 L140.86,30.84 L141.52,31.00 L142.17,31.17 L142.82,31.33 L143.48,31.50 L144.13,31.67 L144.78,31.84 L145.43,32.01 L146.08,32.18 L146.73,32.35 L147.37,32.52 L148.02,32.69 L148.67,32.86 L149.31,33.03 L149.96,33.20 L150.60,33.37 L151.25,33.54 L151.89,33.71 L152.54,33.88 L153.18,34.05 L153.82,34.22 L154.47,34.39 L155.11,34.55 L155.76,34.72 L156.40,34.89 L157.04,35.05 L157.69,35.21 L158.33,35.38 L158.98,35.54 L159.62,35.70 L160.27,35.86 L160.92,36.02 L161.56,36.17 L162.21,36.33 L162.86,36.48 L163.51,36.63 L164.16,36.78 L164.81,36.93 L165.45,37.08 L166.10,37.23 L166.76,37.38 L167.41,37.52 L168.06,37.66 L168.71,37.81 L169.36,37.95 L170.01,38.09 L170.67,38.23 L171.32,38.37 L171.97,38.50 L172.63,38.64 L173.28,38.77 L173.94,38.91 L174.59,39.04 L175.25,39.17 L175.90,39.30 L176.56,39.43 L177.21,39.56 L177.87,39.68 L178.53,39.81 L179.18,39.93 L179.84,40.06 L180.50,40.18 L181.16,40.30 L181.82,40.42 L182.48,40.54 L183.13,40.66 L183.79,40.78 L184.45,40.89 L185.11,41.01 L185.77,41.12 L186.43,41.24 L187.09,41.35 L187.75,41.46 L188.41,41.57 L189.08,41.68 L189.74,41.79 L190.40,41.90 L191.06,42.01 L191.72,42.11 L192.38,42.22 L193.05,42.33 L193.71,42.43 L194.37,42.53 L195.03,42.63 L195.70,42.74 L196.36,42.84 L197.02,42.94 L197.69,43.04 L198.35,43.13 L199.01,43.23 L199.68,43.33 L200.34,43.42 L201.01,43.52 L201.67,43.61 L202.33,43.71 L203.00,43.80 L203.66,43.89 L204.33,43.98 L204.99,44.07 L205.66,44.16 L206.32,44.25 L206.98,44.34 L207.65,44.43 L208.31,44.52 L208.98,44.60 L209.64,44.69 L210.31,44.78 L210.97,44.86 L211.64,44.95 L212.30,45.03 L212.97,45.11 L213.63,45.19 L214.30,45.28 L214.97,45.36 L215.63,45.44 L216.30,45.52 L216.96,45.60 L217.63,45.68 L218.29,45.75 L218.96,45.83 L219.62,45.91 L220.29,45.98 L220.96,46.06 L221.62,46.13 L222.29,46.21 L222.95,46.28 L223.62,46.35 L224.29,46.43 L224.95,46.50 L225.62,46.57 L226.29,46.64 L226.95,46.71 L227.62,46.78 L228.28,46.85 L228.95,46.92 L229.62,46.99 L230.28,47.05 L230.95,47.12 L231.62,47.19 L232.28,47.25 L232.95,47.32 L233.62,47.38 L234.28,47.44 L234.95,47.51 L235.62,47.57 L236.28,47.63 L236.95,47.69 L237.62,47.76 L238.29,47.82 L238.95,47.88 L239.62,47.94 L240.29,47.99 L240.95,48.05 L241.62,48.11 L242.29,48.17 L242.96,48.23 L243.62,48.28 L244.29,48.34 L244.96,48.39 L245.63,48.45 L246.29,48.50 L246.96,48.56 L247.63,48.61 L248.30,48.66 L248.97,48.71 L249.63,48.77 L250.30,48.82 L250.97,48.87 L251.64,48.92 L252.30,48.97 L252.97,49.02 L253.64,49.07 L254.31,49.12 L254.98,49.16 L255.65,49.21 L256.31,49.26 L256.98,49.31 L257.65,49.35 L258.32,49.40 L258.99,49.44 L259.65,49.49 L260.32,49.53 L260.99,49.58 L261.66,49.62 L262.33,49.66 L263.00,49.71 L263.67,49.75 L264.33,49.79 L265.00,49.83 L265.67,49.87 L266.34,49.91 L267.01,49.95 L267.68,49.99 L268.35,50.03 L269.02,50.07 L269.68,50.11 L270.35,50.15 L271.02,50.18 L271.69,50.22 L272.36,50.26 L273.03,50.29 L273.70,50.33 L274.37,50.37 L275.04,50.40 L275.71,50.44 L276.37,50.47 L277.04,50.51 L277.71,50.54 L278.38,50.57 L279.05,50.61 L279.72,50.64 L280.39,50.67 L281.06,50.70 L281.73,50.73 L282.40,50.77 L283.07,50.80 L283.74,50.83 L284.41,50.86 L285.08,50.89 L285.74,50.92 L286.41,50.95 L287.08,50.97 L287.75,51.00 L288.42,51.03 L289.09,51.06 L289.76,51.09 L290.43,51.11 L291.10,51.14 L291.77,51.17 L292.44,51.19 L293.11,51.22 L293.78,51.24 L294.45,51.27 L295.12,51.29 L295.79,51.32 L296.46,51.34 L297.13,51.37 L297.80,51.39 L298.47,51.42 L299.14,51.44 L299.81,51.46 L300.48,51.48 L301.15,51.51 L301.82,51.53 L302.49,51.55 L303.16,51.57 L303.83,51.59 L304.50,51.61 L305.17,51.63 L305.84,51.66 L306.51,51.68 L307.18,51.70 L307.85,51.72 L308.52,51.73 L309.19,51.75 L309.86,51.77 L310.53,51.79 L311.20,51.81 L311.87,51.83 L312.54,51.85 L313.21,51.86 L313.88,51.88 L314.55,51.90 L315.22,51.92 L315.89,51.93 L316.56,51.95 L317.23,51.97 L317.90,51.98 L318.57,52.00 L319.24,52.02 L319.91,52.03 L320.58,52.05 L321.25,52.06 L321.92,52.08 L322.59,52.09 L323.26,52.11 L323.93,52.12 L324.60,52.14 L325.27,52.15 L325.94,52.16 L326.61,52.18 L327.28,52.19 L327.96,52.21 L328.63,52.22 L329.30,52.23 L329.97,52.24 L330.64,52.26 L331.31,52.27 L331.98,52.28 L332.65,52.30 L333.32,52.31 L333.99,52.32 L334.66,52.33 L335.33,52.34 L336.00,52.36 L336.67,52.37 L337.34,52.38 L338.01,52.39 L338.68,52.40 L339.35,52.41 L340.02,52.42 L340.69,52.43 L341.36,52.44 L342.03,52.45 L342.70,52.47 L343.37,52.48 L344.04,52.49 L344.71,52.50 L345.38,52.51 L346.05,52.52 L346.72,52.53 L347.39,52.54 L348.06,52.55 L348.74,52.56 L349.41,52.57 L350.08,52.57 L350.75,52.58 L351.42,52.59 L352.09,52.60 L352.76,52.61 L353.43,52.62 L354.10,52.63 L354.77,52.64 L355.44,52.65 L356.11,52.66 L356.78,52.67 L357.45,52.67 L358.12,52.68 L358.79,52.69 L359.46,52.70 L360.13,52.71 L360.80,52.72 L361.47,52.73 L362.14,52.74 L362.81,52.74 L363.48,52.75 L364.15,52.76 L364.82,52.77 L365.49,52.78 L366.16,52.79 L366.83,52.80 L367.50,52.80 L368.17,52.81 L368.84,52.82 L369.51,52.83 L370.18,52.84 L370.85,52.85 L371.52,52.85 L372.19,52.86 L372.86,52.87 L373.53,52.88 L374.20,52.89 L374.87,52.90 L375.54,52.91 L376.21,52.91 L376.88,52.92 L377.55,52.93 L378.22,52.94 L378.89,52.95 L379.56,52.96 L380.23,52.97 L380.90,52.98 L381.57,52.98 L382.24,52.99 L382.91,53.00 L383.57,53.01 L384.24,53.02 L384.91,53.03 L385.58,53.04 L386.25,53.05 L386.92,53.06 L387.59,53.07 L388.26,53.08 L388.93,53.09 L389.60,53.10 L390.27,53.11 L390.94,53.12 L391.61,53.13 L392.28,53.14 L392.95,53.15 L393.62,53.16 L394.29,53.17 L394.95,53.18 L395.62,53.19 L396.29,53.20 L396.96,53.21 L397.63,53.22 L398.30,53.23 L398.97,53.25 L399.64,53.26 L400.31,53.27 L400.98,53.28 L401.64,53.29 L402.31,53.30 L402.98,53.32 L403.65,53.33 L404.32,53.34 L404.99,53.35" stroke="#00f" stroke-width="1.95" stroke-dasharray="3.7 4.25" stroke-dashoffset="7.93"/>
<path d="M31.40,245.96 L31.43,245.31 L31.46,244.65 L31.49,243.99 L31.52,243.33 L31.55,242.67 L31.59,242.01 L31.62,241.35 L31.65,240.69 L31.69,240.03 L31.72,239.37 L31.75,238.71 L31.79,238.05 L31.82,237.39 L31.86,236.73 L31.90,236.07 L31.93,235.41 L31.97,234.75 L32.01,234.08 L32.04,233.42 L32.08,232.76 L32.12,232.10 L32.16,231.44 L32.20,230.77 L32.24,230.11 L32.28,229.45 L32.32,228.79 L32.36,228.12 L32.41,227.46 L32.45,226.80 L32.49,226.13 L32.53,225.47 L32.58,224.81 L32.62,224.14 L32.67,223.48 L32.71,222.81 L32.76,222.15 L32.81,221.49 L32.85,220.82 L32.90,220.16 L32.95,219.49 L33.00,218.83 L33.05,218.17 L33.10,217.50 L33.15,216.84 L33.20,216.17 L33.25,215.51 L33.30,214.85 L33.35,214.18 L33.41,213.52 L33.46,212.85 L33.52,212.19 L33.57,211.53 L33.63,210.86 L33.68,210.20 L33.74,209.53 L33.80,208.87 L33.86,208.21 L33.91,207.54 L33.97,206.88 L34.03,206.21 L34.09,205.55 L34.16,204.89 L34.22,204.22 L34.28,203.56 L34.34,202.90 L34.41,202.23 L34.47,201.57 L34.54,200.91 L34.60,200.24 L34.67,199.58 L34.74,198.92 L34.81,198.26 L34.88,197.59 L34.95,196.93 L35.02,196.27 L35.09,195.61 L35.16,194.95 L35.23,194.29 L35.30,193.62 L35.38,192.96 L35.45,192.30 L35.53,191.64 L35.61,190.98 L35.68,190.32 L35.76,189.66 L35.84,189.00 L35.92,188.34 L36.00,187.68 L36.08,187.02 L36.16,186.36 L36.24,185.71 L36.33,185.05 L36.41,184.39 L36.50,183.73 L36.58,183.07 L36.67,182.42 L36.76,181.76 L36.84,181.10 L36.93,180.45 L37.02,179.79 L37.11,179.14 L37.21,178.48 L37.30,177.82 L37.39,177.17 L37.49,176.52 L37.58,175.86 L37.68,175.21 L37.77,174.55 L37.87,173.90 L37.97,173.25 L38.07,172.60 L38.17,171.94 L38.27,171.29 L38.38,170.64 L38.48,169.99 L38.58,169.34 L38.69,168.69 L38.79,168.04 L38.90,167.39 L39.01,166.74 L39.12,166.09 L39.23,165.45 L39.34,164.80 L39.45,164.15 L39.56,163.51 L39.68,162.86 L39.79,162.21 L39.91,161.57 L40.03,160.92 L40.14,160.28 L40.26,159.63 L40.39,158.99 L40.51,158.34 L40.63,157.70 L40.76,157.05 L40.88,156.41 L41.01,155.77 L41.14,155.12 L41.27,154.48 L41.41,153.83 L41.54,153.19 L41.68,152.55 L41.81,151.90 L41.95,151.26 L42.10,150.61 L42.24,149.97 L42.38,149.32 L42.53,148.68 L42.68,148.03 L42.83,147.39 L42.98,146.74 L43.14,146.09 L43.29,145.45 L43.45,144.80 L43.61,144.15 L43.78,143.50 L43.94,142.86 L44.11,142.21 L44.28,141.56 L44.45,140.91 L44.62,140.26 L44.80,139.61 L44.98,138.95 L45.16,138.30 L45.35,137.65 L45.53,136.99 L45.72,136.34 L45.91,135.68 L46.11,135.03 L46.30,134.37 L46.50,133.71 L46.71,133.05 L46.91,132.40 L47.12,131.74 L47.33,131.07 L47.54,130.41 L47.76,129.75 L47.98,129.08 L48.20,128.42 L48.43,127.75 L48.66,127.08 L48.89,126.42 L49.12,125.75 L49.36,125.08 L49.61,124.41 L49.86,123.75 L50.12,123.10 L50.39,122.47 L50.67,121.84 L50.97,121.23 L51.27,120.64 L51.59,120.07 L51.93,119.53 L52.29,119.01 L52.67,118.52 L53.06,118.06 L53.48,117.63 L53.92,117.24 L54.39,116.89 L54.88,116.58 L55.39,116.32 L55.94,116.10 L56.51,115.93 L57.10,115.80 L57.70,115.73 L58.31,115.71 L58.93,115.73 L59.55,115.80 L60.16,115.92 L60.77,116.08 L61.36,116.29 L61.93,116.53 L62.49,116.80 L63.04,117.11 L63.56,117.45 L64.07,117.82 L64.57,118.22 L65.05,118.64 L65.52,119.09 L65.97,119.56 L66.42,120.05 L66.85,120.56 L67.28,121.08 L67.70,121.62 L68.10,122.17 L68.50,122.73 L68.90,123.30 L69.29,123.88 L69.67,124.46 L70.05,125.04 L70.43,125.63 L70.80,126.21 L71.17,126.80 L71.54,127.38 L71.90,127.97 L72.27,128.56 L72.63,129.14 L72.99,129.73 L73.34,130.32 L73.69,130.90 L74.04,131.49 L74.39,132.08 L74.74,132.67 L75.08,133.25 L75.43,133.84 L75.77,134.43 L76.11,135.01 L76.45,135.60 L76.78,136.19 L77.12,136.77 L77.45,137.36 L77.79,137.95 L78.12,138.53 L78.45,139.12 L78.78,139.70 L79.11,140.29 L79.43,140.87 L79.76,141.45 L80.09,142.04 L80.41,142.62 L80.74,143.20 L81.06,143.78 L81.39,144.36 L81.71,144.94 L82.04,145.52 L82.36,146.10 L82.69,146.68 L83.01,147.25 L83.34,147.83 L83.66,148.41 L83.99,148.98 L84.32,149.55 L84.64,150.13 L84.97,150.70 L85.30,151.27 L85.63,151.84 L85.96,152.41 L86.29,152.97 L86.62,153.54 L86.96,154.10 L87.29,154.67 L87.63,155.23 L87.97,155.79 L88.30,156.35 L88.65,156.91 L88.99,157.46 L89.33,158.02 L89.68,158.57 L90.03,159.12 L90.38,159.68 L90.73,160.22 L91.09,160.77 L91.44,161.32 L91.80,161.86 L92.16,162.41 L92.53,162.95 L92.89,163.49 L93.26,164.03 L93.63,164.56 L94.01,165.10 L94.38,165.64 L94.76,166.17 L95.14,166.70 L95.52,167.23 L95.90,167.76 L96.29,168.29 L96.67,168.82 L97.06,169.35 L97.46,169.87 L97.85,170.40 L98.25,170.92 L98.64,171.44 L99.05,171.96 L99.45,172.49 L99.85,173.01 L100.26,173.53 L100.67,174.04 L101.08,174.56 L101.49,175.08 L101.91,175.59 L102.33,176.11 L102.75,176.63 L103.17,177.14 L103.59,177.65 L104.02,178.17 L104.45,178.68 L104.88,179.19 L105.31,179.71 L105.74,180.22 L106.18,180.73 L106.62,181.24 L107.06,181.75 L107.50,182.26 L107.95,182.77 L108.39,183.28 L108.84,183.79 L109.29,184.30 L109.75,184.80 L110.20,185.31 L110.66,185.81 L111.12,186.32 L111.58,186.82 L112.04,187.32 L112.51,187.82 L112.98,188.32 L113.45,188.82 L113.92,189.31 L114.40,189.80 L114.87,190.29 L115.35,190.78 L115.83,191.27 L116.32,191.75 L116.80,192.23 L117.29,192.71 L117.78,193.19 L118.27,193.66 L118.76,194.13 L119.26,194.59 L119.76,195.06 L120.26,195.52 L120.76,195.98 L121.27,196.43 L121.77,196.88 L122.28,197.33 L122.80,197.77 L123.31,198.21 L123.83,198.64 L124.34,199.07 L124.87,199.50 L125.39,199.92 L125.91,200.34 L126.44,200.75 L126.97,201.16 L127.50,201.56 L128.04,201.96 L128.57,202.35 L129.11,202.74 L129.65,203.12 L130.20,203.50 L130.74,203.88 L131.29,204.25 L131.84,204.61 L132.39,204.97 L132.95,205.33 L133.50,205.68 L134.06,206.03 L134.62,206.37 L135.18,206.71 L135.75,207.05 L136.31,207.38 L136.88,207.70 L137.45,208.02 L138.02,208.34 L138.60,208.65 L139.17,208.96 L139.75,209.26 L140.33,209.57 L140.91,209.87 L141.50,210.17 L142.08,210.46 L142.67,210.75 L143.26,211.03 L143.85,211.32 L144.44,211.59 L145.03,211.87 L145.63,212.14 L146.22,212.40 L146.82,212.66 L147.42,212.92 L148.03,213.18 L148.63,213.43 L149.23,213.67 L149.84,213.92 L150.45,214.15 L151.06,214.39 L151.67,214.62 L152.28,214.85 L152.90,215.07 L153.51,215.29 L154.13,215.51 L154.75,215.72 L155.37,215.93 L155.99,216.14 L156.61,216.34 L157.23,216.54 L157.86,216.73 L158.49,216.92 L159.11,217.11 L159.74,217.30 L160.37,217.48 L161.00,217.66 L161.64,217.84 L162.27,218.01 L162.90,218.18 L163.54,218.35 L164.18,218.51 L164.82,218.68 L165.45,218.83 L166.09,218.99 L166.74,219.15 L167.38,219.30 L168.02,219.45 L168.67,219.59 L169.31,219.74 L169.96,219.88 L170.60,220.02 L171.25,220.16 L171.90,220.29 L172.55,220.42 L173.20,220.55 L173.85,220.68 L174.50,220.81 L175.16,220.93 L175.81,221.05 L176.47,221.17 L177.12,221.29 L177.78,221.41 L178.43,221.52 L179.09,221.63 L179.75,221.74 L180.41,221.85 L181.07,221.96 L181.73,222.07 L182.39,222.17 L183.05,222.28 L183.71,222.38 L184.37,222.48 L185.03,222.58 L185.69,222.67 L186.36,222.77 L187.02,222.86 L187.69,222.95 L188.35,223.04 L189.02,223.13 L189.68,223.22 L190.35,223.30 L191.01,223.38 L191.68,223.47 L192.35,223.55 L193.01,223.62 L193.68,223.70 L194.35,223.78 L195.02,223.85 L195.68,223.92 L196.35,224.00 L197.02,224.07 L197.69,224.14 L198.36,224.20 L199.02,224.27 L199.69,224.33 L200.36,224.40 L201.03,224.46 L201.70,224.52 L202.37,224.58 L203.04,224.64 L203.70,224.70 L204.37,224.76 L205.04,224.81 L205.71,224.87 L206.38,224.92 L207.05,224.98 L207.72,225.03 L208.38,225.08 L209.05,225.13 L209.72,225.18 L210.39,225.23 L211.05,225.28 L211.72,225.33 L212.39,225.37 L213.06,225.42 L213.72,225.46 L214.39,225.51 L215.06,225.55 L215.73,225.60 L216.39,225.64 L217.06,225.68 L217.73,225.72 L218.39,225.76 L219.06,225.80 L219.73,225.84 L220.39,225.88 L221.06,225.92 L221.73,225.96 L222.39,226.00 L223.06,226.04 L223.73,226.08 L224.39,226.11 L225.06,226.15 L225.72,226.18 L226.39,226.22 L227.06,226.25 L227.72,226.29 L228.39,226.32 L229.05,226.36 L229.72,226.39 L230.38,226.42 L231.05,226.46 L231.72,226.49 L232.38,226.52 L233.05,226.55 L233.71,226.59 L234.38,226.62 L235.04,226.65 L235.71,226.68 L236.37,226.71 L237.04,226.74 L237.70,226.77 L238.37,226.80 L239.03,226.83 L239.70,226.85 L240.36,226.88 L241.02,226.91 L241.69,226.93 L242.35,226.96 L243.02,226.99 L243.68,227.01 L244.35,227.04 L245.01,227.06 L245.67,227.09 L246.34,227.11 L247.00,227.13 L247.67,227.16 L248.33,227.18 L248.99,227.20 L249.66,227.23 L250.32,227.25 L250.99,227.27 L251.65,227.29 L252.31,227.31 L252.98,227.33 L253.64,227.35 L254.30,227.37 L254.97,227.39 L255.63,227.41 L256.29,227.43 L256.96,227.45 L257.62,227.46 L258.28,227.48 L258.95,227.50 L259.61,227.52 L260.27,227.53 L260.94,227.55 L261.60,227.57 L262.26,227.58 L262.93,227.60 L263.59,227.61 L264.25,227.63 L264.91,227.64 L265.58,227.66 L266.24,227.67 L266.90,227.68 L267.57,227.70 L268.23,227.71 L268.89,227.72 L269.55,227.74 L270.22,227.75 L270.88,227.76 L271.54,227.77 L272.20,227.78 L272.87,227.80 L273.53,227.81 L274.19,227.82 L274.85,227.83 L275.52,227.84 L276.18,227.85 L276.84,227.86 L277.50,227.87 L278.17,227.88 L278.83,227.89 L279.49,227.89 L280.15,227.90 L280.82,227.91 L281.48,227.92 L282.14,227.93 L282.80,227.93 L283.46,227.94 L284.13,227.95 L284.79,227.96 L285.45,227.96 L286.11,227.97 L286.78,227.97 L287.44,227.98 L288.10,227.99 L288.76,227.99 L289.42,228.00 L290.09,228.00 L290.75,228.01 L291.41,228.01 L292.07,228.02 L292.73,228.02 L293.40,228.03 L294.06,228.03 L294.72,228.03 L295.38,228.04 L296.04,228.04 L296.71,228.04 L297.37,228.05 L298.03,228.05 L298.69,228.05 L299.35,228.06 L300.02,228.06 L300.68,228.06 L301.34,228.06 L302.00,228.07 L302.66,228.07 L303.33,228.07 L303.99,228.07 L304.65,228.07 L305.31,228.07 L305.97,228.07 L306.64,228.08 L307.30,228.08 L307.96,228.08 L308.62,228.08 L309.28,228.08 L309.95,228.08 L310.61,228.08 L311.27,228.08 L311.93,228.08 L312.59,228.08 L313.26,228.08 L313.92,228.08 L314.58,228.08 L315.24,228.08 L315.91,228.08 L316.57,228.08 L317.23,228.08 L317.89,228.08 L318.55,228.08 L319.22,228.08 L319.88,228.07 L320.54,228.07 L321.20,228.07 L321.87,228.07 L322.53,228.07 L323.19,228.07 L323.85,228.07 L324.52,228.06 L325.18,228.06 L325.84,228.06 L326.50,228.06 L327.17,228.06 L327.83,228.06 L328.49,228.05 L329.15,228.05 L329.82,228.05 L330.48,228.05 L331.14,228.05 L331.80,228.05 L332.47,228.04 L333.13,228.04 L333.79,228.04 L334.45,228.04 L335.12,228.03 L335.78,228.03 L336.44,228.03 L337.11,228.03 L337.77,228.03 L338.43,228.02 L339.10,228.02 L339.76,228.02 L340.42,228.02 L341.08,228.02 L341.75,228.01 L342.41,228.01 L343.07,228.01 L343.74,228.01 L344.40,228.00 L345.06,228.00 L345.73,228.00 L346.39,228.00 L347.06,228.00 L347.72,227.99 L348.38,227.99 L349.05,227.99 L349.71,227.99 L350.37,227.99 L351.04,227.98 L351.70,227.98 L352.37,227.98 L353.03,227.98 L353.69,227.98 L354.36,227.98 L355.02,227.97 L355.69,227.97 L356.35,227.97 L357.01,227.97 L357.68,227.97 L358.34,227.97 L359.01,227.97 L359.67,227.97 L360.34,227.96 L361.00,227.96 L361.67,227.96 L362.33,227.96 L363.00,227.96 L363.66,227.96 L364.33,227.96 L364.99,227.96 L365.66,227.96 L366.32,227.96 L366.99,227.96 L367.65,227.96 L368.32,227.96 L368.98,227.96 L369.65,227.96 L370.31,227.96 L370.98,227.96 L371.65,227.96 L372.31,227.96 L372.98,227.97 L373.64,227.97 L374.31,227.97 L374.97,227.97 L375.64,227.97 L376.31,227.97 L376.97,227.97 L377.64,227.98 L378.31,227.98 L378.97,227.98 L379.64,227.98 L380.31,227.99 L380.97,227.99 L381.64,227.99 L382.31,228.00 L382.97,228.00 L383.64,228.00 L384.31,228.01 L384.97,228.01 L385.64,228.01 L386.31,228.02 L386.98,228.02 L387.64,228.03 L388.31,228.03 L388.98,228.04 L389.65,228.04 L390.31,228.05 L390.98,228.05 L391.65,228.06 L392.32,228.07 L392.99,228.07 L393.65,228.08 L394.32,228.09 L394.99,228.09 L395.66,228.10 L396.33,228.11 L397.00,228.11 L397.67,228.12 L398.33,228.13 L399.00,228.14 L399.67,228.15 L400.34,228.16 L401.01,228.17 L401.68,228.17 L402.35,228.18 L403.02,228.19 L403.69,228.20 L404.36,228.21 L405.03,228.22" stroke="#00f" stroke-width="1.95" stroke-dasharray="3.7 4.25" stroke-dashoffset="0.38"/>
<path d="M24.94,227.59 L25.43,227.16 L25.87,226.73 L26.31,226.29 L26.74,225.87 L27.15,225.43 L27.55,224.97 L27.93,224.50 L28.29,224.01 L28.63,223.51 L28.97,223.00 L29.34,222.50 L29.69,221.99 L30.03,221.46 L30.36,220.92 L30.68,220.36 L30.98,219.80 L31.28,219.22 L31.57,218.63 L31.85,218.04 L32.12,217.43 L32.38,216.82 L32.64,216.20 L32.90,215.58 L33.14,214.96 L33.39,214.33 L33.62,213.69 L33.82,213.05 L34.03,212.41 L34.23,211.77 L34.43,211.12 L34.64,210.48 L34.83,209.84 L35.03,209.19 L35.23,208.55 L35.42,207.91 L35.61,207.26 L35.80,206.62 L35.99,205.97 L36.18,205.33 L36.37,204.68 L36.55,204.04 L36.74,203.39 L36.92,202.74 L37.10,202.10 L37.28,201.45 L37.46,200.80 L37.63,200.16 L37.80,199.51 L37.98,198.86 L38.15,198.21 L38.31,197.56 L38.48,196.91 L38.65,196.26 L38.81,195.61 L38.98,194.96 L39.14,194.31 L39.30,193.66 L39.46,193.01 L39.62,192.36 L39.78,191.71 L39.93,191.06 L40.09,190.41 L40.24,189.76 L40.40,189.11 L40.55,188.46 L40.70,187.80 L40.85,187.15 L41.00,186.50 L41.15,185.85 L41.30,185.20 L41.44,184.54 L41.59,183.89 L41.73,183.24 L41.88,182.58 L42.02,181.93 L42.16,181.28 L42.30,180.62 L42.45,179.97 L42.58,179.32 L42.72,178.66 L42.86,178.01 L43.00,177.35 L43.14,176.70 L43.27,176.04 L43.41,175.39 L43.54,174.74 L43.67,174.08 L43.81,173.43 L43.94,172.77 L44.07,172.11 L44.20,171.46 L44.33,170.80 L44.46,170.15 L44.59,169.49 L44.72,168.84 L44.85,168.18 L44.98,167.52 L45.10,166.87 L45.23,166.21 L45.36,165.55 L45.48,164.90 L45.61,164.24 L45.73,163.58 L45.86,162.93 L45.98,162.27 L46.11,161.61 L46.23,160.96 L46.35,160.30 L46.48,159.64 L46.60,158.99 L46.72,158.33 L46.84,157.67 L46.97,157.01 L47.09,156.35 L47.21,155.70 L47.33,155.04 L47.45,154.38 L47.57,153.72 L47.69,153.07 L47.81,152.41 L47.93,151.75 L48.06,151.09 L48.18,150.43 L48.30,149.78 L48.42,149.12 L48.54,148.46 L48.66,147.80 L48.78,147.14 L48.90,146.48 L49.02,145.83 L49.14,145.17 L49.26,144.51 L49.38,143.85 L49.50,143.19 L49.62,142.53 L49.74,141.87 L49.86,141.22 L49.98,140.56 L50.10,139.90 L50.23,139.24 L50.35,138.58 L50.47,137.92 L50.59,137.27 L50.72,136.61 L50.84,135.95 L50.96,135.29 L51.09,134.63 L51.21,133.97 L51.34,133.31 L51.46,132.66 L51.59,132.00 L51.71,131.34 L51.84,130.68 L51.96,130.02 L52.09,129.36 L52.22,128.71 L52.35,128.05 L52.47,127.39 L52.60,126.73 L52.73,126.07 L52.86,125.42 L52.99,124.76 L53.13,124.10 L53.26,123.44 L53.39,122.78 L53.52,122.13 L53.66,121.47 L53.79,120.81 L53.93,120.15 L54.06,119.49 L54.20,118.84 L54.33,118.18 L54.47,117.52 L54.61,116.86 L54.75,116.21 L54.89,115.55 L55.03,114.89 L55.17,114.24 L55.32,113.58 L55.46,112.92 L55.60,112.27 L55.75,111.61 L55.89,110.95 L56.04,110.30 L56.19,109.64 L56.34,108.99 L56.49,108.33 L56.64,107.67 L56.79,107.02 L56.94,106.36 L57.09,105.71 L57.24,105.05 L57.40,104.40 L57.55,103.74 L57.71,103.09 L57.86,102.44 L58.02,101.78 L58.18,101.13 L58.34,100.47 L58.50,99.82 L58.66,99.17 L58.82,98.52 L58.98,97.86 L59.15,97.21 L59.31,96.56 L59.47,95.91 L59.64,95.26 L59.81,94.60 L59.97,93.95 L60.14,93.30 L60.31,92.65 L60.48,92.00 L60.65,91.35 L60.83,90.70 L61.00,90.06 L61.17,89.41 L61.35,88.76 L61.53,88.11 L61.70,87.46 L61.88,86.82 L62.05,86.17 L62.22,85.52 L62.39,84.87 L62.57,84.22 L62.74,83.57 L62.91,82.92 L63.09,82.28 L63.27,81.63 L63.44,80.98 L63.62,80.34 L63.80,79.69 L63.98,79.05 L64.16,78.40 L64.35,77.76 L64.53,77.11 L64.71,76.47 L64.90,75.83 L65.09,75.18 L65.27,74.54 L65.46,73.90 L65.65,73.26 L65.83,72.61 L66.02,71.97 L66.20,71.33 L66.38,70.68 L66.57,70.04 L66.76,69.40 L66.94,68.76 L67.13,68.12 L67.32,67.48 L67.51,66.84 L67.70,66.20 L67.89,65.56 L68.09,64.92 L68.28,64.28 L68.48,63.64 L68.66,63.00 L68.85,62.36 L69.04,61.72 L69.23,61.08 L69.42,60.44 L69.61,59.80 L69.81,59.16 L70.00,58.52 L70.20,57.88 L70.40,57.25 L70.60,56.61 L70.81,55.97 L71.01,55.34 L71.23,54.70 L71.45,54.07 L71.68,53.44 L71.91,52.81 L72.14,52.18 L72.38,51.56 L72.61,50.93 L72.85,50.30 L73.10,49.67 L73.35,49.05 L73.60,48.42 L73.85,47.80 L74.11,47.17 L74.37,46.55 L74.64,45.93 L74.91,45.31 L75.18,44.69 L75.46,44.07 L75.75,43.45 L76.03,42.83 L76.32,42.21 L76.62,41.59 L76.93,40.98 L77.26,40.38 L77.59,39.77 L77.92,39.17 L78.26,38.57 L78.61,37.97 L78.96,37.37 L79.32,36.77 L79.68,36.18 L80.05,35.59 L80.42,35.00 L80.80,34.41 L81.19,33.83 L81.59,33.25 L81.99,32.68 L82.39,32.11 L82.81,31.54 L83.23,30.98 L83.65,30.43 L84.09,29.88 L84.53,29.34 L84.97,28.80 L85.43,28.27 L85.89,27.75 L86.36,27.24 L86.84,26.74 L87.32,26.24 L87.81,25.75 L88.31,25.28 L88.82,24.81 L89.34,24.35 L89.87,23.90 L90.40,23.47 L90.95,23.05 L91.50,22.64 L92.06,22.24 L92.63,21.85 L93.20,21.48 L93.79,21.11 L94.38,20.77 L94.99,20.44 L95.60,20.12 L96.22,19.82 L96.85,19.53 L97.49,19.26 L98.14,19.00 L98.80,18.77 L99.47,18.55 L100.14,18.34 L100.83,18.16 L101.51,17.99 L102.20,17.84 L102.90,17.70 L103.60,17.59 L104.30,17.48 L105.01,17.40 L105.72,17.33 L106.43,17.27 L107.14,17.23 L107.85,17.20 L108.56,17.19 L109.27,17.19 L109.98,17.21 L110.68,17.24 L111.38,17.29 L112.08,17.34 L112.78,17.41 L113.47,17.49 L114.15,17.58 L114.84,17.68 L115.52,17.78 L116.20,17.90 L116.87,18.01 L117.55,18.14 L118.21,18.27 L118.88,18.40 L119.55,18.54 L120.21,18.68 L120.87,18.82 L121.53,18.97 L122.19,19.11 L122.85,19.26 L123.51,19.41 L124.16,19.56 L124.82,19.72 L125.48,19.87 L126.13,20.03 L126.79,20.19 L127.44,20.35 L128.10,20.51 L128.75,20.67 L129.40,20.84 L130.06,21.00 L130.71,21.17 L131.36,21.34 L132.01,21.51 L132.66,21.68 L133.32,21.85 L133.97,22.02 L134.62,22.20 L135.26,22.37 L135.91,22.55 L136.56,22.73 L137.21,22.91 L137.86,23.09 L138.51,23.27 L139.15,23.45 L139.80,23.63 L140.45,23.81 L141.10,23.99 L141.74,24.17 L142.39,24.36 L143.03,24.54 L143.68,24.73 L144.32,24.91 L144.97,25.10 L145.61,25.28 L146.26,25.47 L146.90,25.65 L147.55,25.84 L148.19,26.03 L148.84,26.21 L149.48,26.40 L150.12,26.59 L150.77,26.78 L151.41,26.97 L152.05,27.16 L152.69,27.35 L153.33,27.55 L153.97,27.74 L154.62,27.93 L155.26,28.12 L155.90,28.31 L156.54,28.50 L157.18,28.69 L157.82,28.88 L158.46,29.07 L159.10,29.26 L159.75,29.45 L160.39,29.63 L161.03,29.82 L161.67,30.01 L162.31,30.19 L162.96,30.37 L163.60,30.55 L164.24,30.74 L164.88,30.92 L165.53,31.09 L166.17,31.27 L166.81,31.45 L167.45,31.62 L168.10,31.80 L168.74,31.97 L169.39,32.14 L170.03,32.31 L170.68,32.48 L171.32,32.65 L171.97,32.81 L172.61,32.98 L173.26,33.14 L173.90,33.30 L174.55,33.46 L175.20,33.62 L175.85,33.78 L176.49,33.94 L177.14,34.10 L177.79,34.25 L178.44,34.41 L179.09,34.56 L179.74,34.71 L180.39,34.86 L181.04,35.01 L181.69,35.16 L182.34,35.31 L182.99,35.46 L183.64,35.61 L184.29,35.76 L184.94,35.90 L185.59,36.05 L186.24,36.19 L186.89,36.33 L187.55,36.48 L188.20,36.62 L188.85,36.76 L189.51,36.89 L190.16,37.03 L190.81,37.17 L191.47,37.30 L192.12,37.44 L192.78,37.57 L193.43,37.70 L194.08,37.83 L194.74,37.96 L195.40,38.09 L196.05,38.22 L196.71,38.34 L197.36,38.47 L198.02,38.60 L198.68,38.72 L199.33,38.84 L199.99,38.96 L200.65,39.09 L201.31,39.21 L201.96,39.33 L202.62,39.44 L203.28,39.56 L203.94,39.68 L204.60,39.79 L205.26,39.91 L205.92,40.02 L206.58,40.14 L207.24,40.25 L207.89,40.36 L208.55,40.47 L209.22,40.58 L209.88,40.69 L210.54,40.80 L211.20,40.90 L211.86,41.01 L212.52,41.11 L213.18,41.22 L213.84,41.32 L214.50,41.43 L215.17,41.53 L215.83,41.63 L216.49,41.73 L217.15,41.82 L217.82,41.92 L218.48,42.02 L219.14,42.11 L219.81,42.21 L220.47,42.30 L221.13,42.39 L221.80,42.49 L222.46,42.58 L223.12,42.67 L223.79,42.76 L224.45,42.85 L225.12,42.94 L225.78,43.03 L226.45,43.12 L227.11,43.20 L227.78,43.29 L228.44,43.38 L229.11,43.46 L229.77,43.55 L230.44,43.63 L231.10,43.71 L231.77,43.80 L232.43,43.88 L233.10,43.96 L233.77,44.04 L234.43,44.12 L235.10,44.20 L235.76,44.28 L236.43,44.36 L237.10,44.44 L237.76,44.52 L238.43,44.60 L239.10,44.67 L239.76,44.75 L240.43,44.83 L241.10,44.90 L241.76,44.98 L242.43,45.05 L243.10,45.13 L243.76,45.20 L244.43,45.27 L245.10,45.35 L245.76,45.42 L246.43,45.49 L247.10,45.56 L247.77,45.63 L248.43,45.70 L249.10,45.77 L249.77,45.84 L250.44,45.91 L251.10,45.98 L251.77,46.05 L252.44,46.12 L253.10,46.19 L253.77,46.26 L254.44,46.33 L255.11,46.39 L255.77,46.46 L256.44,46.53 L257.11,46.59 L257.78,46.66 L258.44,46.72 L259.11,46.79 L259.78,46.86 L260.45,46.91 L261.12,46.97 L261.78,47.03 L262.45,47.08 L263.12,47.14 L263.79,47.19 L264.46,47.24 L265.13,47.30 L265.79,47.35 L266.46,47.40 L267.13,47.46 L267.80,47.51 L268.47,47.56 L269.13,47.62 L269.80,47.67 L270.47,47.72 L271.14,47.77 L271.81,47.82 L272.48,47.87 L273.14,47.92 L273.81,47.97 L274.48,48.02 L275.15,48.07 L275.82,48.12 L276.49,48.17 L277.15,48.22 L277.82,48.27 L278.49,48.31 L279.16,48.36 L279.83,48.41 L280.50,48.46 L281.16,48.50 L281.83,48.55 L282.50,48.59 L283.17,48.64 L283.84,48.69 L284.50,48.73 L285.17,48.78 L285.84,48.82 L286.51,48.87 L287.18,48.91 L287.85,48.95 L288.51,49.00 L289.18,49.04 L289.85,49.08 L290.52,49.13 L291.19,49.17 L291.86,49.21 L292.52,49.25 L293.19,49.30 L293.86,49.34 L294.53,49.38 L295.20,49.42 L295.87,49.46 L296.54,49.50 L297.20,49.54 L297.87,49.58 L298.54,49.62 L299.21,49.66 L299.88,49.70 L300.55,49.74 L301.21,49.78 L301.88,49.81 L302.55,49.85 L303.22,49.89 L303.89,49.93 L304.56,49.96 L305.23,50.00 L305.89,50.04 L306.56,50.07 L307.23,50.11 L307.90,50.15 L308.57,50.18 L309.24,50.22 L309.90,50.25 L310.57,50.29 L311.24,50.32 L311.91,50.36 L312.58,50.39 L313.25,50.42 L313.92,50.46 L314.59,50.49 L315.25,50.52 L315.92,50.56 L316.59,50.59 L317.26,50.62 L317.93,50.65 L318.60,50.68 L319.27,50.72 L319.93,50.75 L320.60,50.78 L321.27,50.81 L321.94,50.84 L322.61,50.87 L323.28,50.90 L323.95,50.93 L324.62,50.96 L325.28,50.99 L325.95,51.02 L326.62,51.05 L327.29,51.07 L327.96,51.10 L328.63,51.13 L329.30,51.16 L329.97,51.19 L330.64,51.21 L331.30,51.24 L331.97,51.27 L332.64,51.29 L333.31,51.32 L333.98,51.35 L334.65,51.37 L335.32,51.40 L335.99,51.42 L336.66,51.45 L337.33,51.47 L338.00,51.50 L338.66,51.52 L339.33,51.55 L340.00,51.57 L340.67,51.60 L341.34,51.62 L342.01,51.64 L342.68,51.66 L343.35,51.69 L344.02,51.71 L344.69,51.73 L345.36,51.75 L346.03,51.78 L346.69,51.80 L347.36,51.82 L348.03,51.84 L348.70,51.86 L349.37,51.88 L350.04,51.90 L350.71,51.92 L351.38,51.94 L352.05,51.96 L352.72,51.98 L353.39,52.00 L354.06,52.02 L354.73,52.04 L355.40,52.06 L356.07,52.08 L356.74,52.10 L357.41,52.12 L358.08,52.13 L358.75,52.15 L359.42,52.17 L360.09,52.19 L360.76,52.20 L361.42,52.22 L362.09,52.24 L362.76,52.25 L363.43,52.27 L364.10,52.29 L364.77,52.30 L365.44,52.32 L366.11,52.33 L366.78,52.35 L367.45,52.36 L368.12,52.38 L368.79,52.39 L369.46,52.41 L370.13,52.42 L370.80,52.44 L371.47,52.45 L372.14,52.46 L372.81,52.48 L373.48,52.49 L374.15,52.50 L374.82,52.52 L375.49,52.53 L376.16,52.54 L376.84,52.55 L377.51,52.56 L378.18,52.58 L378.85,52.59 L379.52,52.60 L380.19,52.61 L380.86,52.62 L381.53,52.63 L382.20,52.64 L382.87,52.65 L383.54,52.66 L384.21,52.67 L384.88,52.68 L385.55,52.69 L386.22,52.70 L386.89,52.71 L387.56,52.72 L388.23,52.73 L388.90,52.74 L389.58,52.75 L390.25,52.76 L390.92,52.76 L391.59,52.77 L392.26,52.78 L392.93,52.79 L393.60,52.80 L394.27,52.80 L394.94,52.81 L395.61,52.82 L396.28,52.82 L396.96,52.83 L397.63,52.84 L398.30,52.84 L398.97,52.85 L399.64,52.85 L400.31,52.86 L400.98,52.87 L401.65,52.87 L402.33,52.88 L403.00,52.88" stroke="#000" stroke-width="2.15" stroke-dasharray="8.4 4.30" stroke-dashoffset="10.89"/>
<path d="M32.56,173.64 L32.68,173.00 L32.80,172.36 L32.92,171.72 L33.05,171.09 L33.17,170.45 L33.29,169.81 L33.41,169.17 L33.53,168.54 L33.66,167.90 L33.78,167.26 L33.90,166.62 L34.02,165.99 L34.15,165.35 L34.27,164.71 L34.40,164.07 L34.52,163.43 L34.65,162.80 L34.77,162.16 L34.90,161.52 L35.03,160.88 L35.15,160.24 L35.28,159.61 L35.41,158.97 L35.54,158.33 L35.67,157.69 L35.79,157.05 L35.92,156.41 L36.05,155.77 L36.18,155.13 L36.32,154.49 L36.45,153.85 L36.58,153.21 L36.71,152.57 L36.84,151.93 L36.98,151.29 L37.11,150.65 L37.24,150.01 L37.38,149.37 L37.51,148.73 L37.65,148.09 L37.79,147.45 L37.92,146.80 L38.06,146.16 L38.20,145.52 L38.34,144.88 L38.48,144.23 L38.62,143.59 L38.76,142.95 L38.90,142.30 L39.04,141.66 L39.18,141.01 L39.32,140.37 L39.47,139.73 L39.61,139.08 L39.76,138.43 L39.90,137.79 L40.05,137.14 L40.20,136.50 L40.34,135.85 L40.49,135.20 L40.64,134.56 L40.79,133.91 L40.94,133.26 L41.09,132.61 L41.24,131.96 L41.40,131.31 L41.55,130.66 L41.70,130.01 L41.86,129.36 L42.01,128.71 L42.17,128.06 L42.33,127.41 L42.49,126.76 L42.65,126.10 L42.81,125.45 L42.97,124.79 L43.14,124.14 L43.31,123.49 L43.49,122.83 L43.67,122.18 L43.86,121.53 L44.05,120.88 L44.25,120.23 L44.45,119.59 L44.67,118.95 L44.89,118.31 L45.12,117.67 L45.36,117.04 L45.61,116.41 L45.87,115.79 L46.15,115.17 L46.43,114.56 L46.73,113.95 L47.04,113.35 L47.36,112.76 L47.70,112.17 L48.05,111.59 L48.44,111.03 L48.85,110.49 L49.28,109.95 L49.72,109.43 L50.18,108.91 L50.65,108.42 L51.14,107.94 L51.65,107.50 L52.16,107.08 L52.69,106.71 L53.23,106.37 L53.79,106.09 L54.36,105.86 L54.95,105.70 L55.55,105.60 L56.16,105.58 L56.76,105.63 L57.37,105.74 L57.97,105.91 L58.57,106.13 L59.17,106.41 L59.75,106.72 L60.33,107.07 L60.90,107.45 L61.46,107.86 L62.01,108.28 L62.54,108.72 L63.05,109.18 L63.55,109.65 L64.04,110.13 L64.52,110.62 L64.99,111.11 L65.44,111.62 L65.89,112.13 L66.33,112.65 L66.76,113.17 L67.17,113.70 L67.59,114.24 L67.99,114.78 L68.39,115.33 L68.78,115.88 L69.16,116.44 L69.53,117.00 L69.90,117.56 L70.27,118.13 L70.63,118.70 L70.99,119.27 L71.34,119.84 L71.69,120.42 L72.03,120.99 L72.37,121.57 L72.71,122.15 L73.05,122.72 L73.38,123.30 L73.72,123.87 L74.05,124.45 L74.38,125.02 L74.71,125.60 L75.04,126.18 L75.37,126.75 L75.69,127.32 L76.02,127.90 L76.34,128.47 L76.67,129.05 L76.99,129.62 L77.31,130.19 L77.63,130.77 L77.95,131.34 L78.27,131.91 L78.59,132.49 L78.90,133.06 L79.22,133.63 L79.54,134.20 L79.85,134.78 L80.17,135.35 L80.48,135.92 L80.79,136.49 L81.11,137.06 L81.42,137.63 L81.73,138.21 L82.04,138.78 L82.35,139.35 L82.66,139.92 L82.98,140.49 L83.29,141.06 L83.60,141.63 L83.91,142.20 L84.22,142.77 L84.53,143.33 L84.84,143.90 L85.15,144.47 L85.46,145.04 L85.76,145.61 L86.07,146.18 L86.37,146.75 L86.68,147.32 L86.99,147.90 L87.29,148.47 L87.60,149.04 L87.90,149.61 L88.21,150.18 L88.52,150.75 L88.83,151.32 L89.13,151.88 L89.44,152.45 L89.75,153.02 L90.06,153.59 L90.37,154.16 L90.69,154.73 L91.00,155.30 L91.31,155.87 L91.62,156.43 L91.94,157.00 L92.26,157.57 L92.57,158.14 L92.89,158.71 L93.21,159.27 L93.53,159.84 L93.85,160.41 L94.17,160.97 L94.49,161.54 L94.82,162.11 L95.14,162.67 L95.47,163.24 L95.80,163.81 L96.13,164.37 L96.46,164.94 L96.79,165.50 L97.12,166.07 L97.46,166.63 L97.80,167.20 L98.14,167.76 L98.48,168.32 L98.82,168.88 L99.17,169.44 L99.51,170.00 L99.86,170.56 L100.22,171.11 L100.57,171.66 L100.93,172.21 L101.29,172.76 L101.66,173.31 L102.02,173.85 L102.39,174.39 L102.77,174.93 L103.14,175.46 L103.52,175.99 L103.91,176.52 L104.30,177.04 L104.69,177.56 L105.09,178.08 L105.49,178.59 L105.90,179.09 L106.31,179.59 L106.72,180.09 L107.14,180.58 L107.57,181.07 L108.00,181.55 L108.44,182.03 L108.88,182.50 L109.32,182.97 L109.77,183.44 L110.22,183.90 L110.67,184.36 L111.13,184.82 L111.59,185.27 L112.06,185.73 L112.52,186.18 L112.99,186.63 L113.46,187.08 L113.93,187.53 L114.40,187.98 L114.87,188.43 L115.34,188.88 L115.81,189.33 L116.29,189.79 L116.76,190.24 L117.23,190.70 L117.69,191.16 L118.16,191.62 L118.63,192.09 L119.09,192.56 L119.56,193.02 L120.02,193.49 L120.49,193.96 L120.95,194.43 L121.41,194.90 L121.88,195.37 L122.34,195.84 L122.81,196.31 L123.28,196.77 L123.75,197.24 L124.22,197.70 L124.69,198.16 L125.17,198.61 L125.65,199.06 L126.13,199.51 L126.61,199.95 L127.10,200.39 L127.59,200.82 L128.09,201.24 L128.59,201.66 L129.09,202.08 L129.60,202.49 L130.11,202.89 L130.63,203.29 L131.15,203.67 L131.67,204.06 L132.20,204.44 L132.74,204.81 L133.27,205.18 L133.81,205.54 L134.35,205.90 L134.90,206.25 L135.44,206.60 L136.00,206.94 L136.55,207.27 L137.11,207.61 L137.67,207.93 L138.23,208.26 L138.80,208.58 L139.36,208.89 L139.94,209.20 L140.51,209.50 L141.09,209.80 L141.66,210.10 L142.25,210.39 L142.83,210.68 L143.42,210.96 L144.00,211.24 L144.60,211.51 L145.19,211.78 L145.78,212.04 L146.38,212.31 L146.98,212.56 L147.58,212.82 L148.19,213.07 L148.79,213.31 L149.40,213.55 L150.01,213.79 L150.62,214.03 L151.23,214.26 L151.85,214.48 L152.46,214.71 L153.08,214.93 L153.70,215.14 L154.32,215.36 L154.94,215.57 L155.56,215.77 L156.19,215.98 L156.81,216.18 L157.44,216.37 L158.07,216.57 L158.70,216.76 L159.33,216.94 L159.96,217.13 L160.59,217.31 L161.22,217.49 L161.86,217.66 L162.49,217.84 L163.13,218.01 L163.76,218.17 L164.40,218.34 L165.04,218.50 L165.67,218.66 L166.31,218.82 L166.95,218.97 L167.59,219.12 L168.23,219.27 L168.87,219.42 L169.51,219.57 L170.15,219.71 L170.79,219.85 L171.43,219.99 L172.07,220.13 L172.71,220.26 L173.35,220.39 L173.99,220.52 L174.64,220.65 L175.28,220.77 L175.92,220.90 L176.56,221.02 L177.21,221.14 L177.85,221.26 L178.49,221.37 L179.14,221.49 L179.78,221.60 L180.43,221.71 L181.07,221.81 L181.71,221.92 L182.36,222.02 L183.01,222.13 L183.65,222.23 L184.30,222.33 L184.94,222.42 L185.59,222.52 L186.23,222.61 L186.88,222.71 L187.53,222.80 L188.18,222.88 L188.82,222.97 L189.47,223.06 L190.12,223.14 L190.77,223.22 L191.41,223.31 L192.06,223.39 L192.71,223.46 L193.36,223.54 L194.01,223.62 L194.66,223.69 L195.30,223.76 L195.95,223.84 L196.60,223.91 L197.25,223.98 L197.90,224.04 L198.55,224.11 L199.20,224.18 L199.85,224.24 L200.50,224.30 L201.15,224.37 L201.80,224.43 L202.45,224.49 L203.10,224.55 L203.75,224.60 L204.40,224.66 L205.05,224.72 L205.70,224.77 L206.36,224.82 L207.01,224.88 L207.66,224.93 L208.31,224.98 L208.96,225.03 L209.61,225.08 L210.26,225.13 L210.92,225.18 L211.57,225.23 L212.22,225.27 L212.87,225.32 L213.52,225.37 L214.17,225.41 L214.83,225.46 L215.48,225.50 L216.13,225.54 L216.78,225.59 L217.43,225.63 L218.09,225.67 L218.74,225.71 L219.39,225.75 L220.04,225.79 L220.69,225.83 L221.35,225.87 L222.00,225.91 L222.65,225.95 L223.30,225.99 L223.96,226.03 L224.61,226.06 L225.26,226.10 L225.91,226.14 L226.56,226.17 L227.22,226.21 L227.87,226.24 L228.52,226.28 L229.17,226.31 L229.83,226.35 L230.48,226.38 L231.13,226.41 L231.78,226.44 L232.44,226.48 L233.09,226.51 L233.74,226.54 L234.40,226.57 L235.05,226.60 L235.70,226.63 L236.35,226.66 L237.01,226.69 L237.66,226.72 L238.31,226.75 L238.96,226.77 L239.62,226.80 L240.27,226.83 L240.92,226.86 L241.58,226.88 L242.23,226.91 L242.88,226.93 L243.53,226.96 L244.19,226.99 L244.84,227.01 L245.49,227.03 L246.15,227.06 L246.80,227.08 L247.45,227.11 L248.11,227.13 L248.76,227.15 L249.41,227.17 L250.07,227.19 L250.72,227.22 L251.37,227.24 L252.02,227.26 L252.68,227.28 L253.33,227.30 L253.98,227.32 L254.64,227.34 L255.29,227.36 L255.94,227.38 L256.60,227.39 L257.25,227.41 L257.90,227.43 L258.56,227.45 L259.21,227.46 L259.86,227.48 L260.52,227.50 L261.17,227.51 L261.82,227.53 L262.48,227.55 L263.13,227.56 L263.78,227.58 L264.44,227.59 L265.09,227.61 L265.75,227.62 L266.40,227.63 L267.05,227.65 L267.71,227.66 L268.36,227.67 L269.01,227.69 L269.67,227.70 L270.32,227.71 L270.97,227.72 L271.63,227.74 L272.28,227.75 L272.94,227.76 L273.59,227.77 L274.24,227.78 L274.90,227.79 L275.55,227.80 L276.20,227.81 L276.86,227.82 L277.51,227.83 L278.16,227.84 L278.82,227.85 L279.47,227.86 L280.13,227.87 L280.78,227.87 L281.43,227.88 L282.09,227.89 L282.74,227.90 L283.40,227.90 L284.05,227.91 L284.70,227.92 L285.36,227.93 L286.01,227.93 L286.66,227.94 L287.32,227.94 L287.97,227.95 L288.63,227.96 L289.28,227.96 L289.93,227.97 L290.59,227.97 L291.24,227.98 L291.90,227.98 L292.55,227.99 L293.20,227.99 L293.86,228.00 L294.51,228.00 L295.17,228.00 L295.82,228.01 L296.47,228.01 L297.13,228.01 L297.78,228.02 L298.44,228.02 L299.09,228.02 L299.74,228.03 L300.40,228.03 L301.05,228.03 L301.71,228.03 L302.36,228.04 L303.01,228.04 L303.67,228.04 L304.32,228.04 L304.98,228.04 L305.63,228.04 L306.28,228.05 L306.94,228.05 L307.59,228.05 L308.25,228.05 L308.90,228.05 L309.56,228.05 L310.21,228.05 L310.86,228.05 L311.52,228.05 L312.17,228.05 L312.83,228.05 L313.48,228.05 L314.13,228.05 L314.79,228.05 L315.44,228.05 L316.10,228.05 L316.75,228.05 L317.40,228.05 L318.06,228.05 L318.71,228.05 L319.37,228.05 L320.02,228.05 L320.67,228.05 L321.33,228.05 L321.98,228.04 L322.64,228.04 L323.29,228.04 L323.95,228.04 L324.60,228.04 L325.25,228.04 L325.91,228.04 L326.56,228.04 L327.22,228.03 L327.87,228.03 L328.52,228.03 L329.18,228.03 L329.83,228.03 L330.49,228.03 L331.14,228.02 L331.79,228.02 L332.45,228.02 L333.10,228.02 L333.76,228.02 L334.41,228.01 L335.07,228.01 L335.72,228.01 L336.37,228.01 L337.03,228.01 L337.68,228.00 L338.34,228.00 L338.99,228.00 L339.64,228.00 L340.30,228.00 L340.95,227.99 L341.61,227.99 L342.26,227.99 L342.91,227.99 L343.57,227.99 L344.22,227.98 L344.88,227.98 L345.53,227.98 L346.18,227.98 L346.84,227.98 L347.49,227.98 L348.15,227.97 L348.80,227.97 L349.45,227.97 L350.11,227.97 L350.76,227.97 L351.42,227.97 L352.07,227.96 L352.72,227.96 L353.38,227.96 L354.03,227.96 L354.69,227.96 L355.34,227.96 L355.99,227.96 L356.65,227.95 L357.30,227.95 L357.95,227.95 L358.61,227.95 L359.26,227.95 L359.92,227.95 L360.57,227.95 L361.22,227.95 L361.88,227.95 L362.53,227.95 L363.19,227.95 L363.84,227.95 L364.49,227.95 L365.15,227.95 L365.80,227.95 L366.45,227.95 L367.11,227.95 L367.76,227.95 L368.41,227.95 L369.07,227.95 L369.72,227.95 L370.38,227.95 L371.03,227.95 L371.68,227.95 L372.34,227.95 L372.99,227.95 L373.64,227.95 L374.30,227.96 L374.95,227.96 L375.60,227.96 L376.26,227.96 L376.91,227.96 L377.57,227.97 L378.22,227.97 L378.87,227.97 L379.53,227.97 L380.18,227.98 L380.83,227.98 L381.49,227.98 L382.14,227.98 L382.79,227.99 L383.45,227.99 L384.10,228.00 L384.75,228.00 L385.41,228.00 L386.06,228.01 L386.71,228.01 L387.37,228.02 L388.02,228.02 L388.67,228.03 L389.33,228.03 L389.98,228.04 L390.63,228.04 L391.29,228.05 L391.94,228.06 L392.59,228.06 L393.24,228.07 L393.90,228.07 L394.55,228.08 L395.20,228.09 L395.86,228.10 L396.51,228.10 L397.16,228.11 L397.82,228.12 L398.47,228.13 L399.12,228.14 L399.77,228.14 L400.43,228.15 L401.08,228.16 L401.73,228.17 L402.39,228.18 L403.04,228.19 L403.69,228.20 L404.34,228.21" stroke="#000" stroke-width="2.15" stroke-dasharray="8.4 4.30" stroke-dashoffset="1.47"/>
<path d="M24.94,227.59 L25.43,227.16 L25.87,226.73 L26.31,226.29" stroke="#000" stroke-width="2.45"/>
<path d="M26.60,184.30 L28.40,192.40 L30.00,185.40 L31.20,178.20" stroke="#000" stroke-width="2.15" stroke-linejoin="bevel"/>
</g>
</svg>
</body></html>
